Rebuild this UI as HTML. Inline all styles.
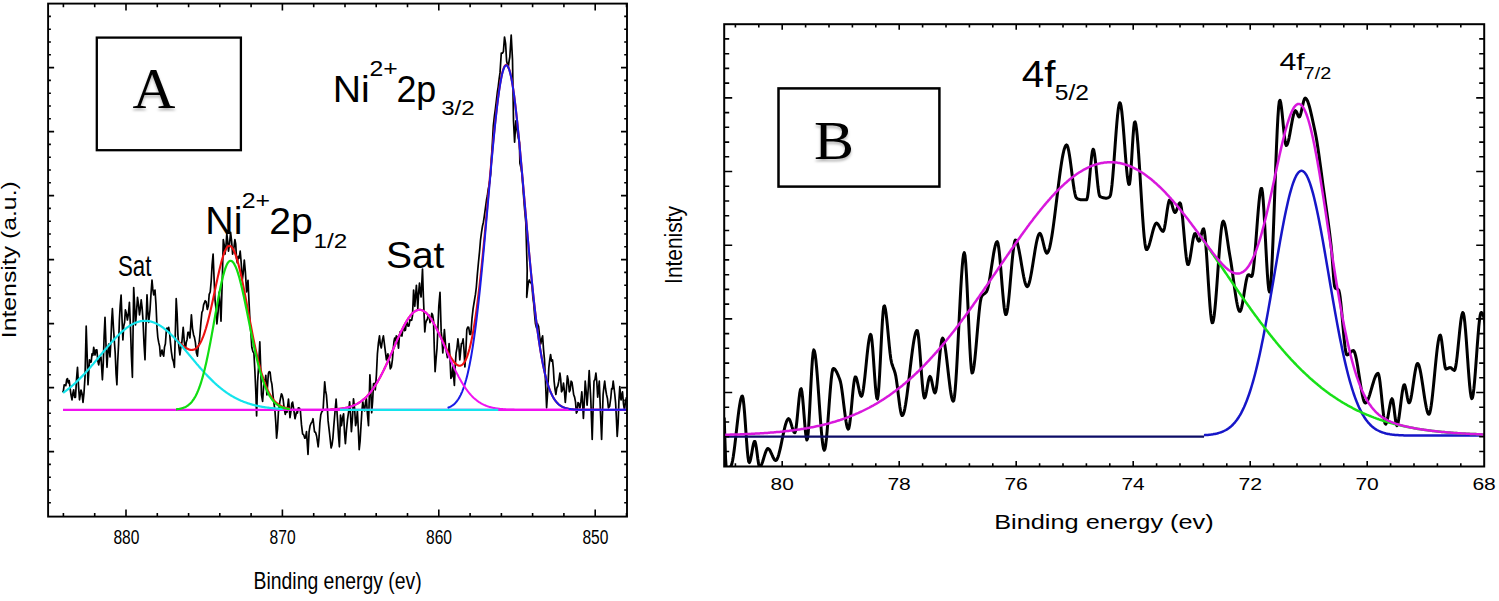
<!DOCTYPE html>
<html><head><meta charset="utf-8"><style>
html,body{margin:0;padding:0;background:#fff;}
svg{display:block;}
text{font-family:"Liberation Sans", sans-serif;fill:#000;}
</style></head><body>
<svg width="1499" height="601" viewBox="0 0 1499 601">
<defs><clipPath id="ca"><rect x="48.1" y="3.6" width="578.9" height="513.0"/></clipPath><clipPath id="cb"><rect x="724.2" y="24.2" width="760.0" height="442.3"/></clipPath><filter id="sh" x="-20%" y="-20%" width="140%" height="160%"><feDropShadow dx="0" dy="2.5" stdDeviation="1.3" flood-color="#000" flood-opacity="0.28"/></filter></defs>
<rect width="1499" height="601" fill="#fff"/>
<!-- Panel A -->
<g fill="none" stroke-linejoin="round">
<path d="M62.5,392.3L63.3,391.3L64.2,384.9L65.0,385.0L65.8,385.7L66.7,379.6L67.5,378.6L68.3,382.9L69.2,380.6L70.0,387.3L71.0,394.8L72.0,399.8L72.8,393.4L73.7,389.8L74.6,397.4L75.5,397.3L76.5,379.4L77.5,367.3L78.5,385.7L79.5,399.8L81.0,390.0L82.0,393.6L83.0,402.3L84.0,392.8L85.0,377.3L86.2,326.2L87.1,353.7L88.0,384.8L89.5,359.8L90.3,362.3L91.2,362.0L92.0,353.8L92.9,355.3L93.7,347.4L95.0,355.0L96.0,349.9L96.9,349.9L97.8,360.8L98.7,364.8L99.8,358.3L101.0,357.0L102.4,379.8L103.3,362.9L104.1,336.6L105.0,317.4L106.0,345.0L107.0,367.3L107.8,353.2L108.7,344.0L110.0,357.0L110.8,343.0L111.6,322.0L112.4,308.7L113.4,327.1L114.4,342.0L115.2,352.9L116.1,374.1L116.9,384.8L117.7,361.8L118.6,343.9L119.4,319.9L120.2,305.6L121.1,295.0L122.0,318.7L122.9,340.0L123.7,326.3L124.6,322.2L125.4,309.9L126.4,313.5L127.4,320.0L128.4,314.2L129.4,302.4L130.4,325.8L131.4,356.0L132.4,377.3L133.7,287.5L134.6,304.5L135.5,324.9L136.5,312.2L137.5,297.4L138.5,304.5L139.5,314.9L140.3,309.4L141.2,299.9L142.1,307.5L143.0,319.9L144.0,343.6L145.0,359.8L146.0,324.3L147.0,294.9L147.8,310.7L148.7,322.4L150.0,310.0L151.0,293.9L152.0,280.0L152.8,288.9L153.7,294.9L155.0,290.0L156.0,304.7L157.0,327.4L157.8,337.3L158.7,342.4L159.6,346.2L160.4,356.1L162.0,350.0L162.8,354.2L163.7,356.1L164.5,347.1L165.4,343.8L166.2,332.4L167.0,328.0L167.9,331.0L168.7,327.4L169.6,332.9L170.4,342.4L171.4,351.8L172.4,358.6L173.4,361.4L174.4,367.3L175.3,334.1L176.2,298.7L177.1,313.3L177.9,334.9L178.9,347.2L179.9,354.8L180.9,347.0L181.9,342.0L183.2,327.4L184.3,341.8L185.4,349.8L186.2,342.4L187.1,339.4L187.9,332.4L188.9,332.4L189.9,338.0L191.4,314.9L192.5,328.6L193.6,334.9L194.5,337.6L195.4,342.4L196.4,352.7L197.4,356.1L198.2,347.5L199.1,343.3L199.9,335.0L200.9,322.6L201.9,312.4L202.8,310.5L203.6,304.9L205.2,300.7L206.2,301.9L207.3,309.5L208.3,306.1L209.2,294.3L210.2,292.0L211.2,281.0L212.1,264.8L213.1,254.1L214.1,279.2L215.1,300.7L216.0,308.4L216.9,324.0L218.1,311.8L219.2,292.0L220.1,304.5L221.0,321.1L222.2,282.7L223.3,239.6L224.2,244.9L225.0,254.1L225.9,247.1L226.8,233.7L227.7,241.3L228.5,251.2L229.6,243.0L230.6,232.3L231.6,241.0L232.6,254.1L233.8,248.6L234.9,239.6L235.7,243.8L236.5,258.4L237.3,262.9L238.3,256.4L239.2,258.1L240.2,251.2L241.2,262.7L242.2,280.3L243.2,273.5L244.3,260.0L245.4,272.2L246.6,292.0L248.0,280.3L249.1,303.6L250.1,324.0L250.9,332.8L251.8,347.3L252.9,351.6L253.9,353.1L254.9,371.2L255.9,393.9L256.6,416.0L257.6,381.9L258.7,365.3L259.8,341.9L260.6,364.7L261.5,394.9L262.6,401.4L264.1,379.8L265.0,380.9L265.8,375.4L266.9,394.9L268.4,373.3L269.2,371.6L270.1,372.2L271.0,380.2L271.9,384.1L273.4,399.2L274.9,410.0L275.8,422.6L276.6,438.2L277.5,429.2L278.4,412.2L279.9,401.4L281.4,393.8L282.2,395.1L283.1,399.2L284.2,408.5L285.3,414.4L286.1,411.2L287.0,412.2L288.5,399.2L290.0,417.6L290.9,411.7L291.8,403.5L292.6,402.1L293.5,407.9L295.0,418.7L296.5,412.2L297.4,413.0L298.3,407.9L299.4,408.0L300.4,411.1L301.5,424.9L302.6,433.8L303.7,434.8L304.8,438.2L305.6,437.8L306.5,431.7L308.0,454.4L309.1,431.7L310.1,425.7L311.2,423.0L312.1,422.0L313.0,418.7L314.5,431.7L315.6,432.5L316.6,436.0L318.2,446.8L319.0,437.6L319.9,423.0L320.8,414.7L321.6,412.2L323.1,410.0L324.7,381.9L325.5,390.4L326.4,394.9L327.2,405.0L328.1,420.9L329.6,433.8L331.1,447.9L332.0,445.1L332.9,438.2L333.8,426.0L334.6,416.5L336.1,399.2L337.6,420.9L338.5,435.8L339.4,446.8L340.5,415.0L341.5,425.7L342.6,417.6L343.6,413.8L344.5,432.5L345.4,443.7L346.4,430.4L347.5,419.7L348.6,412.0L349.6,401.8L350.5,414.1L351.4,431.7L352.4,419.1L353.5,398.8L354.6,408.5L355.6,425.7L356.5,421.4L357.4,410.8L358.3,429.0L359.2,449.7L360.1,441.1L361.0,425.7L361.9,410.7L362.8,401.8L363.7,407.7L364.6,410.8L365.5,402.4L366.4,398.8L367.4,413.4L368.5,425.7L369.9,374.8L370.8,390.4L371.7,412.8L372.6,401.5L373.5,383.8L374.4,383.4L375.3,389.8L376.4,375.1L377.4,353.9L378.4,343.1L379.5,335.9L380.4,345.3L381.3,347.9L382.4,340.2L383.4,335.9L384.9,347.9L386.4,359.8L387.9,353.9L388.7,360.3L389.5,361.7L390.3,368.8L391.4,366.8L392.4,359.8L393.9,341.9L394.7,338.0L395.5,340.7L396.3,335.9L397.3,336.6L398.5,348.2L399.3,337.2L400.1,331.9L401.1,335.7L402.0,336.0L402.9,328.8L403.9,327.3L404.7,330.7L405.5,330.0L406.3,323.1L407.1,322.6L408.1,326.2L409.0,326.0L409.9,319.8L410.9,320.3L411.7,320.2L412.5,315.6L413.6,290.0L414.8,306.3L416.4,285.3L417.8,308.6L418.6,293.1L419.5,283.0L420.3,293.0L421.1,297.0L422.5,269.0L423.4,297.0L424.8,331.9L425.6,323.5L426.5,320.3L427.3,319.7L428.1,315.6L429.1,315.2L430.0,322.6L430.9,319.2L431.8,313.3L432.6,314.8L433.5,320.3L434.3,348.6L435.1,371.6L436.1,358.8L437.0,348.2L437.9,328.7L438.8,306.3L440.0,292.3L441.2,331.9L442.0,339.0L442.8,352.9L444.4,329.6L445.8,348.2L447.4,357.6L448.2,354.0L449.1,343.6L450.0,358.1L450.9,378.5L451.9,376.4L452.8,366.9L454.4,385.5L455.2,365.9L456.1,352.9L457.0,347.8L457.9,338.9L458.9,346.5L459.8,359.9L461.4,343.6L462.2,343.3L463.1,338.9L464.0,349.7L464.9,366.9L465.9,350.4L466.8,329.6L467.8,327.0L468.7,327.3L469.8,334.4L470.8,334.3L472.0,318.4L473.1,308.6L474.5,300.0L475.4,294.7L476.3,287.5L477.4,273.9L478.5,262.0L479.5,252.0L480.5,240.0L481.5,232.3L482.5,226.0L483.4,222.2L484.2,216.8L485.4,208.0L486.5,200.0L487.3,196.0L488.2,189.4L489.0,185.7L489.8,180.8L490.6,174.1L491.5,157.1L492.4,142.9L493.3,126.2L494.4,116.2L495.4,108.8L496.5,99.5L497.4,91.8L498.2,86.8L499.1,79.2L500.0,72.9L501.3,53.0L502.4,53.2L503.4,51.6L504.5,37.0L505.6,43.6L506.6,61.0L508.2,67.6L509.0,61.6L509.8,57.0L511.2,35.1L512.5,59.6L513.5,120.8L514.6,142.1L515.9,120.8L517.3,131.5L518.3,137.5L519.4,142.1L519.9,163.4L521.0,167.7L522.0,174.1L523.5,195.0L524.6,209.1L525.8,222.4L527.2,270.5L526.7,297.4L527.6,288.8L528.5,282.0L529.3,280.0L530.2,282.4L531.1,282.8L532.0,285.3L532.9,297.6L533.7,303.4L534.6,314.6L535.5,323.8L536.5,327.9L537.5,323.7L538.6,326.6L539.7,336.8L540.8,343.9L541.7,338.9L542.6,335.9L543.5,349.1L544.5,359.9L545.5,381.5L546.6,407.8L547.7,391.8L548.8,367.9L549.7,360.1L550.6,354.5L551.5,361.2L552.5,359.9L553.3,367.9L554.1,381.2L555.0,389.2L555.9,394.5L556.8,388.0L557.8,386.0L558.8,381.2L559.9,373.2L560.7,379.4L561.5,391.8L562.5,390.0L563.5,383.0L564.4,390.9L565.3,402.5L566.3,390.9L567.4,375.8L568.3,380.2L569.3,391.8L570.2,389.8L571.1,381.2L572.0,382.3L572.8,388.0L573.7,394.8L574.6,397.1L575.5,401.9L576.4,413.1L577.2,411.7L578.0,402.5L579.0,404.0L580.0,408.0L580.9,401.4L581.8,391.8L582.6,403.0L583.4,418.4L584.3,402.3L585.2,381.2L586.2,391.9L587.1,405.1L588.2,389.0L589.2,370.5L590.8,399.8L592.2,439.5L593.1,408.7L594.0,381.2L595.0,379.4L595.9,373.2L596.8,381.9L597.7,397.1L599.3,381.2L600.5,413.2L601.6,439.5L603.1,394.5L603.9,386.8L604.7,381.2L605.6,389.0L606.5,394.5L607.5,398.8L608.4,407.8L609.6,406.5L610.8,398.0L611.6,388.7L612.4,388.9L613.2,381.2L614.8,394.5L615.6,402.8L616.4,418.4L617.2,436.5L618.1,423.6L618.9,400.9L619.8,386.5L621.0,400.0L622.5,391.8L623.5,404.1L624.5,410.0L625.5,401.5L626.5,397.1" stroke="#000" stroke-width="1.7"/>
<path d="M176.0,339.1L176.5,339.6L177.0,340.1L177.5,340.6L178.0,341.1L178.5,341.6L179.0,342.1L179.5,342.5L180.0,343.0L180.5,343.5L181.0,343.9L181.5,344.4L182.0,344.8L182.5,345.3L183.0,345.7L183.5,346.1L184.0,346.5L184.5,346.9L185.0,347.2L185.5,347.6L186.0,347.9L186.5,348.2L187.0,348.5L187.5,348.8L188.0,349.0L188.5,349.3L189.0,349.5L189.5,349.6L190.0,349.8L190.5,349.9L191.0,349.9L191.5,350.0L192.0,350.0L192.5,349.9L193.0,349.9L193.5,349.7L194.0,349.6L194.5,349.3L195.0,349.1L195.5,348.8L196.0,348.4L196.5,348.0L197.0,347.5L197.5,347.0L198.0,346.4L198.5,345.7L199.0,345.0L199.5,344.3L200.0,343.4L200.5,342.5L201.0,341.5L201.5,340.5L202.0,339.4L202.5,338.2L203.0,337.0L203.5,335.7L204.0,334.3L204.5,332.9L205.0,331.4L205.5,329.8L206.0,328.2L206.5,326.4L207.0,324.7L207.5,322.9L208.0,321.0L208.5,319.0L209.0,317.0L209.5,315.0L210.0,312.9L210.5,310.7L211.0,308.5L211.5,306.3L212.0,304.1L212.5,301.8L213.0,299.5L213.5,297.1L214.0,294.8L214.5,292.4L215.0,290.1L215.5,287.7L216.0,285.3L216.5,283.0L217.0,280.7L217.5,278.4L218.0,276.1L218.5,273.9L219.0,271.7L219.5,269.6L220.0,267.5L220.5,265.5L221.0,263.5L221.5,261.6L222.0,259.8L222.5,258.1L223.0,256.5L223.5,255.0L224.0,253.5L224.5,252.2L225.0,251.0L225.5,249.9L226.0,249.0L226.5,248.1L227.0,247.4L227.5,246.8L228.0,246.4L228.5,246.0L229.0,245.9L229.5,245.8L230.0,245.9L230.5,246.2L231.0,246.5L231.5,247.0L232.0,247.6L232.5,248.3L233.0,249.1L233.5,250.0L234.0,251.0L234.5,252.1L235.0,253.3L235.5,254.7L236.0,256.1L236.5,257.6L237.0,259.2L237.5,260.9L238.0,262.7L238.5,264.5L239.0,266.5L239.5,268.5L240.0,270.6L240.5,272.7L241.0,275.0L241.5,277.3L242.0,279.6L242.5,282.0L243.0,284.4L243.5,286.9L244.0,289.4L244.5,292.0L245.0,294.6L245.5,297.2L246.0,299.8L246.5,302.4L247.0,305.1L247.5,307.8L248.0,310.4L248.5,313.1L249.0,315.8L249.5,318.4L250.0,321.1L250.5,323.7L251.0,326.3L251.5,328.9L252.0,331.5L252.5,334.1L253.0,336.6L253.5,339.1L254.0,341.5L254.5,343.9L255.0,346.3L255.5,348.6L256.0,350.9L256.5,353.2L257.0,355.4L257.5,357.5L258.0,359.6L258.5,361.7L259.0,363.7L259.5,365.6L260.0,367.5L260.5,369.3L261.0,371.1L261.5,372.9L262.0,374.5L262.5,376.2L263.0,377.7L263.5,379.3L264.0,380.7L264.5,382.2L265.0,383.5L265.5,384.8L266.0,386.1L266.5,387.3L267.0,388.5L267.5,389.6L268.0,390.7L268.5,391.7L269.0,392.7L269.5,393.6L270.0,394.5L270.5,395.4L271.0,396.2L271.5,397.0L272.0,397.7L272.5,398.4L273.0,399.1L273.5,399.7L274.0,400.3L274.5,400.9L275.0,401.4L275.5,401.9L276.0,402.4L276.5,402.9L277.0,403.3L277.5,403.7L278.0,404.1L278.5,404.5L279.0,404.8L279.5,405.1L280.0,405.4L280.5,405.7L281.0,406.0L281.5,406.2L282.0,406.4L282.5,406.7L283.0,406.9L283.5,407.1L284.0,407.2L284.5,407.4L285.0,407.6L285.5,407.7L286.0,407.9L286.5,408.0L287.0,408.1L287.5,408.2L288.0,408.3L288.5,408.4L289.0,408.5L289.5,408.6L290.0,408.7" stroke="#ee1111" stroke-width="2.1"/>
<path d="M330.0,409.5L330.5,409.5L331.0,409.5L331.5,409.4L332.0,409.4L332.5,409.4L333.0,409.4L333.5,409.3L334.0,409.3L334.5,409.3L335.0,409.2L335.5,409.2L336.0,409.2L336.5,409.1L337.0,409.1L337.5,409.0L338.0,409.0L338.5,408.9L339.0,408.9L339.5,408.8L340.0,408.8L340.5,408.7L341.0,408.6L341.5,408.6L342.0,408.5L342.5,408.4L343.0,408.3L343.5,408.3L344.0,408.2L344.5,408.1L345.0,408.0L345.5,407.9L346.0,407.8L346.5,407.7L347.0,407.6L347.5,407.4L348.0,407.3L348.5,407.2L349.0,407.0L349.5,406.9L350.0,406.8L350.5,406.6L351.0,406.4L351.5,406.3L352.0,406.1L352.5,405.9L353.0,405.7L353.5,405.5L354.0,405.3L354.5,405.1L355.0,404.9L355.5,404.6L356.0,404.4L356.5,404.1L357.0,403.9L357.5,403.6L358.0,403.3L358.5,403.0L359.0,402.7L359.5,402.4L360.0,402.1L360.5,401.7L361.0,401.4L361.5,401.0L362.0,400.6L362.5,400.2L363.0,399.8L363.5,399.4L364.0,399.0L364.5,398.6L365.0,398.1L365.5,397.7L366.0,397.2L366.5,396.7L367.0,396.2L367.5,395.6L368.0,395.1L368.5,394.5L369.0,394.0L369.5,393.4L370.0,392.8L370.5,392.2L371.0,391.5L371.5,390.9L372.0,390.2L372.5,389.5L373.0,388.8L373.5,388.1L374.0,387.4L374.5,386.7L375.0,385.9L375.5,385.1L376.0,384.3L376.5,383.5L377.0,382.7L377.5,381.9L378.0,381.0L378.5,380.1L379.0,379.2L379.5,378.3L380.0,377.4L380.5,376.5L381.0,375.5L381.5,374.6L382.0,373.6L382.5,372.6L383.0,371.6L383.5,370.6L384.0,369.6L384.5,368.5L385.0,367.5L385.5,366.4L386.0,365.4L386.5,364.3L387.0,363.2L387.5,362.1L388.0,361.0L388.5,359.9L389.0,358.8L389.5,357.6L390.0,356.5L390.5,355.4L391.0,354.2L391.5,353.1L392.0,351.9L392.5,350.8L393.0,349.6L393.5,348.5L394.0,347.3L394.5,346.2L395.0,345.0L395.5,343.9L396.0,342.7L396.5,341.6L397.0,340.4L397.5,339.3L398.0,338.2L398.5,337.1L399.0,336.0L399.5,334.9L400.0,333.8L400.5,332.8L401.0,331.7L401.5,330.7L402.0,329.7L402.5,328.7L403.0,327.7L403.5,326.7L404.0,325.7L404.5,324.8L405.0,323.9L405.5,323.0L406.0,322.1L406.5,321.3L407.0,320.5L407.5,319.7L408.0,318.9L408.5,318.2L409.0,317.5L409.5,316.8L410.0,316.1L410.5,315.5L411.0,314.9L411.5,314.3L412.0,313.8L412.5,313.3L413.0,312.8L413.5,312.4L414.0,312.0L414.5,311.6L415.0,311.3L415.5,310.9L416.0,310.7L416.5,310.4L417.0,310.2L417.5,310.1L418.0,310.0L418.5,309.9L419.0,309.8L419.5,309.8L420.0,309.8L420.5,309.9L421.0,310.0L421.5,310.1L422.0,310.2L422.5,310.4L423.0,310.7L423.5,310.9L424.0,311.2L424.5,311.6L425.0,311.9L425.5,312.4L426.0,312.8L426.5,313.3L427.0,313.8L427.5,314.3L428.0,314.9L428.5,315.5L429.0,316.1L429.5,316.7L430.0,317.4L430.5,318.1L431.0,318.9L431.5,319.6L432.0,320.4L432.5,321.2L433.0,322.0L433.5,322.9L434.0,323.8L434.5,324.7L435.0,325.6L435.5,326.5L436.0,327.5L436.5,328.4L437.0,329.4L437.5,330.4L438.0,331.4L438.5,332.4L439.0,333.5L439.5,334.5L440.0,335.5L440.5,336.6L441.0,337.7L441.5,338.7L442.0,339.8L442.5,340.8L443.0,341.9L443.5,343.0L444.0,344.0L444.5,345.1L445.0,346.1L445.5,347.2L446.0,348.2L446.5,349.2L447.0,350.2L447.5,351.2L448.0,352.2L448.5,353.1L449.0,354.1L449.5,355.0L450.0,355.9L450.5,356.7L451.0,357.6L451.5,358.4L452.0,359.2L452.5,359.9L453.0,360.6L453.5,361.3L454.0,362.0L454.5,362.5L455.0,363.1L455.5,363.6L456.0,364.1L456.5,364.5L457.0,364.8L457.5,365.1L458.0,365.4L458.5,365.5L459.0,365.7L459.5,365.7L460.0,365.7L460.5,365.6L461.0,365.4L461.5,365.2L462.0,364.9L462.5,364.5L463.0,364.0L463.5,363.4L464.0,362.8L464.5,362.0L465.0,361.2L465.5,360.2L466.0,359.2L466.5,358.0L467.0,356.8L467.5,355.4L468.0,353.9L468.5,352.3L469.0,350.6L469.5,348.8L470.0,346.8L470.5,344.8L471.0,342.6L471.5,340.3L472.0,337.8L472.5,335.3L473.0,332.6L473.5,329.7L474.0,326.8L474.5,323.7L475.0,320.5L475.5,317.2L476.0,313.7L476.5,310.1L477.0,306.4L477.5,302.5L478.0,298.5L478.5,294.4L479.0,290.2L479.5,285.9L480.0,281.4L480.5,276.9L481.0,272.2L481.5,267.4L482.0,262.6L482.5,257.6L483.0,252.6L483.5,247.4L484.0,242.2L484.5,237.0L485.0,231.6L485.5,226.2L486.0,220.8L486.5,215.3L487.0,209.8L487.5,204.2L488.0,198.6L488.5,193.1L489.0,187.5L489.5,181.9L490.0,176.4L490.5,170.8L491.0,165.4L491.5,159.9L492.0,154.6L492.5,149.2L493.0,144.0L493.5,138.9L494.0,133.8L494.5,128.9L495.0,124.1L495.5,119.4L496.0,114.8L496.5,110.4L497.0,106.2L497.5,102.1L498.0,98.2L498.5,94.4L499.0,90.9L499.5,87.5L500.0,84.4L500.5,81.5L501.0,78.8L501.5,76.3L502.0,74.1L502.5,72.0L503.0,70.3L503.5,68.7L504.0,67.5L504.5,66.4L505.0,65.7L505.5,65.2L506.0,64.9L506.5,64.9L507.0,65.2L507.5,65.7L508.0,66.5L508.5,67.5L509.0,68.8L509.5,70.3L510.0,72.1L510.5,74.1L511.0,76.4L511.5,78.9L512.0,81.6L512.5,84.5L513.0,87.7L513.5,91.1L514.0,94.6L514.5,98.4L515.0,102.4L515.5,106.5L516.0,110.8L516.5,115.3L517.0,119.9L517.5,124.6L518.0,129.5L518.5,134.5L519.0,139.7L519.5,144.9L520.0,150.2L520.5,155.6L521.0,161.1L521.5,166.7L522.0,172.3L522.5,177.9L523.0,183.6L523.5,189.3L524.0,195.1L524.5,200.8L525.0,206.6L525.5,212.3L526.0,218.0L526.5,223.7L527.0,229.4L527.5,235.0L528.0,240.5L528.5,246.1L529.0,251.5L529.5,256.9L530.0,262.2L530.5,267.5L531.0,272.6L531.5,277.7L532.0,282.7L532.5,287.6L533.0,292.3L533.5,297.0L534.0,301.6L534.5,306.1L535.0,310.4L535.5,314.7L536.0,318.8L536.5,322.8L537.0,326.7L537.5,330.5L538.0,334.2L538.5,337.8L539.0,341.2L539.5,344.5L540.0,347.8L540.5,350.9L541.0,353.8L541.5,356.7L542.0,359.5L542.5,362.1L543.0,364.7L543.5,367.1L544.0,369.5L544.5,371.7L545.0,373.9L545.5,375.9L546.0,377.9L546.5,379.8L547.0,381.5L547.5,383.2L548.0,384.8L548.5,386.4L549.0,387.8L549.5,389.2L550.0,390.5L550.5,391.8L551.0,392.9L551.5,394.0L552.0,395.1L552.5,396.1L553.0,397.0L553.5,397.9L554.0,398.7L554.5,399.5L555.0,400.2L555.5,400.9L556.0,401.5L556.5,402.1L557.0,402.7L557.5,403.2L558.0,403.7L558.5,404.2L559.0,404.6L559.5,405.0L560.0,405.4L560.5,405.7L561.0,406.0L561.5,406.3L562.0,406.6L562.5,406.9L563.0,407.1L563.5,407.3L564.0,407.5L564.5,407.7L565.0,407.9L565.5,408.1L566.0,408.2L566.5,408.3L567.0,408.5L567.5,408.6L568.0,408.7L568.5,408.8L569.0,408.9L569.5,409.0L570.0,409.0L570.5,409.1L571.0,409.2L571.5,409.2L572.0,409.3L572.5,409.3L573.0,409.4L573.5,409.4L574.0,409.5L574.5,409.5L575.0,409.5L575.5,409.5L576.0,409.6L576.5,409.6L577.0,409.6L577.5,409.6L578.0,409.7L578.5,409.7L579.0,409.7L579.5,409.7L580.0,409.7L580.5,409.7L581.0,409.7L581.5,409.7L582.0,409.7L582.5,409.7L583.0,409.8L583.5,409.8L584.0,409.8L584.5,409.8L585.0,409.8L585.5,409.8L586.0,409.8L586.5,409.8L587.0,409.8L587.5,409.8L588.0,409.8L588.5,409.8L589.0,409.8L589.5,409.8L590.0,409.8L590.5,409.8L591.0,409.8L591.5,409.8L592.0,409.8L592.5,409.8L593.0,409.8L593.5,409.8L594.0,409.8L594.5,409.8L595.0,409.8L595.5,409.8L596.0,409.8L596.5,409.8L597.0,409.8L597.5,409.8L598.0,409.8L598.5,409.8L599.0,409.8L599.5,409.8L600.0,409.8" stroke="#ee1111" stroke-width="2.1"/>
<path d="M63,409.8H627" stroke="#f012f0" stroke-width="2.2"/>
<path d="M447.6,407.9L448.1,407.7L448.6,407.5L449.1,407.3L449.6,407.1L450.1,406.9L450.6,406.6L451.1,406.3L451.6,406.0L452.1,405.7L452.6,405.4L453.1,405.0L453.6,404.6L454.1,404.2L454.6,403.7L455.1,403.2L455.6,402.7L456.1,402.1L456.6,401.5L457.1,400.9L457.6,400.2L458.1,399.5L458.6,398.7L459.1,397.9L459.6,397.0L460.1,396.1L460.6,395.1L461.1,394.0L461.6,392.9L462.1,391.8L462.6,390.5L463.1,389.2L463.6,387.8L464.1,386.4L464.6,384.8L465.1,383.2L465.6,381.5L466.1,379.8L466.6,377.9L467.1,375.9L467.6,373.9L468.1,371.7L468.6,369.5L469.1,367.1L469.6,364.7L470.1,362.1L470.6,359.5L471.1,356.7L471.6,353.8L472.1,350.9L472.6,347.8L473.1,344.5L473.6,341.2L474.1,337.8L474.6,334.2L475.1,330.5L475.6,326.8L476.1,322.8L476.6,318.8L477.1,314.7L477.6,310.4L478.1,306.1L478.6,301.6L479.1,297.0L479.6,292.4L480.1,287.6L480.6,282.7L481.1,277.7L481.6,272.6L482.1,267.5L482.6,262.2L483.1,256.9L483.6,251.5L484.1,246.1L484.6,240.6L485.1,235.0L485.6,229.4L486.1,223.7L486.6,218.0L487.1,212.3L487.6,206.6L488.1,200.9L488.6,195.1L489.1,189.4L489.6,183.7L490.1,178.0L490.6,172.3L491.1,166.7L491.6,161.2L492.1,155.7L492.6,150.3L493.1,145.0L493.6,139.7L494.1,134.6L494.6,129.6L495.1,124.7L495.6,120.0L496.1,115.4L496.6,110.9L497.1,106.6L497.6,102.5L498.1,98.5L498.6,94.8L499.1,91.2L499.6,87.9L500.1,84.7L500.6,81.8L501.1,79.1L501.6,76.6L502.1,74.4L502.6,72.3L503.1,70.6L503.6,69.1L504.1,67.8L504.6,66.8L505.1,66.0L505.6,65.6L506.1,65.3L506.6,65.3L507.1,65.6L507.6,66.2L508.1,67.0L508.6,68.0L509.1,69.4L509.6,70.9L510.1,72.7L510.6,74.8L511.1,77.1L511.6,79.6L512.1,82.4L512.6,85.3L513.1,88.5L513.6,91.9L514.1,95.5L514.6,99.3L515.1,103.3L515.6,107.5L516.1,111.8L516.6,116.3L517.1,120.9L517.6,125.7L518.1,130.6L518.6,135.6L519.1,140.8L519.6,146.0L520.1,151.4L520.6,156.8L521.1,162.3L521.6,167.8L522.1,173.5L522.6,179.1L523.1,184.8L523.6,190.5L524.1,196.3L524.6,202.0L525.1,207.7L525.6,213.5L526.1,219.2L526.6,224.9L527.1,230.5L527.6,236.1L528.1,241.7L528.6,247.2L529.1,252.6L529.6,258.0L530.1,263.3L530.6,268.5L531.1,273.7L531.6,278.7L532.1,283.7L532.6,288.5L533.1,293.3L533.6,298.0L534.1,302.5L534.6,307.0L535.1,311.3L535.6,315.5L536.1,319.6L536.6,323.6L537.1,327.5L537.6,331.3L538.1,334.9L538.6,338.5L539.1,341.9L539.6,345.2L540.1,348.4L540.6,351.5L541.1,354.4L541.6,357.3L542.1,360.0L542.6,362.7L543.1,365.2L543.6,367.6L544.1,369.9L544.6,372.2L545.1,374.3L545.6,376.3L546.1,378.3L546.6,380.1L547.1,381.9L547.6,383.6L548.1,385.2L548.6,386.7L549.1,388.1L549.6,389.5L550.1,390.8L550.6,392.0L551.1,393.1L551.6,394.2L552.1,395.3L552.6,396.3L553.1,397.2L553.6,398.0L554.1,398.9L554.6,399.6L555.1,400.3L555.6,401.0L556.1,401.6L556.6,402.2L557.1,402.8L557.6,403.3L558.1,403.8L558.6,404.3L559.1,404.7L559.6,405.1L560.1,405.4L560.6,405.8L561.1,406.1L561.6,406.4L562.1,406.7L562.6,406.9L563.1,407.2L563.6,407.4L564.1,407.6L564.6,407.8L565.1,407.9L565.6,408.1L566.1,408.2L566.6,408.4L567.1,408.5L567.6,408.6L568.1,408.7L568.6,408.8L569.1,408.9L569.6,409.0L570.1,409.1L570.6,409.1L571.1,409.2L571.6,409.2L572.1,409.3L572.6,409.3L573.1,409.4L573.6,409.4L574.1,409.5L574.6,409.5L575.1,409.5L575.6,409.6L576.1,409.6L576.6,409.6L577.1,409.6L577.6,409.6L578.1,409.7L578.6,409.7L579.1,409.7L579.6,409.7L580.1,409.7L580.6,409.7L581.1,409.7L581.6,409.7L582.1,409.7L582.6,409.7L583.1,409.8L583.6,409.8L584.1,409.8L584.6,409.8L585.1,409.8L585.6,409.8L586.1,409.8L586.6,409.8L587.1,409.8L587.6,409.8L588.1,409.8L588.6,409.8L589.1,409.8L589.6,409.8L590.1,409.8L590.6,409.8L591.1,409.8L591.6,409.8L592.1,409.8L592.6,409.8L593.1,409.8L593.6,409.8L594.1,409.8L594.6,409.8L595.1,409.8L595.6,409.8L596.1,409.8L596.6,409.8L597.1,409.8L597.6,409.8L598.1,409.8L598.6,409.8L599.1,409.8L599.6,409.8L600.1,409.8L600.6,409.8L601.1,409.8L601.6,409.8L602.1,409.8L602.6,409.8L603.1,409.8L603.6,409.8L604.1,409.8L604.6,409.8L605.1,409.8L605.6,409.8L606.1,409.8L606.6,409.8L607.1,409.8L607.6,409.8L608.1,409.8L608.6,409.8L609.1,409.8L609.6,409.8L610.1,409.8L610.6,409.8L611.1,409.8L611.6,409.8L612.1,409.8L612.6,409.8L613.1,409.8L613.6,409.8L614.1,409.8L614.6,409.8L615.1,409.8L615.6,409.8L616.1,409.8L616.6,409.8L617.1,409.8L617.6,409.8L618.1,409.8L618.6,409.8L619.1,409.8L619.6,409.8L620.1,409.8L620.6,409.8L621.1,409.8L621.6,409.8L622.1,409.8L622.6,409.8L623.1,409.8L623.6,409.8L624.1,409.8L624.6,409.8L625.1,409.8L625.6,409.8L626.1,409.8L626.6,409.8" stroke="#1a1ae6" stroke-width="2"/>
<path d="M283.0,409.8L283.5,409.8L284.0,409.8L284.5,409.8L285.0,409.8L285.5,409.8L286.0,409.8L286.5,409.8L287.0,409.8L287.5,409.8L288.0,409.8L288.5,409.8L289.0,409.8L289.5,409.8L290.0,409.8L290.5,409.8L291.0,409.8L291.5,409.8L292.0,409.8L292.5,409.8L293.0,409.8L293.5,409.8L294.0,409.8L294.5,409.8L295.0,409.8L295.5,409.8L296.0,409.8L296.5,409.8L297.0,409.8L297.5,409.8L298.0,409.8L298.5,409.8L299.0,409.8L299.5,409.8L300.0,409.8L300.5,409.8L301.0,409.8L301.5,409.8L302.0,409.8L302.5,409.8L303.0,409.8L303.5,409.8L304.0,409.8L304.5,409.8L305.0,409.8L305.5,409.8L306.0,409.8L306.5,409.8L307.0,409.8L307.5,409.8L308.0,409.8L308.5,409.8L309.0,409.8L309.5,409.8L310.0,409.8L310.5,409.8L311.0,409.8L311.5,409.8L312.0,409.8L312.5,409.8L313.0,409.8L313.5,409.8L314.0,409.8L314.5,409.8L315.0,409.8L315.5,409.8L316.0,409.8L316.5,409.8L317.0,409.7L317.5,409.7L318.0,409.7L318.5,409.7L319.0,409.7L319.5,409.7L320.0,409.7L320.5,409.7L321.0,409.7L321.5,409.7L322.0,409.7L322.5,409.7L323.0,409.7L323.5,409.7L324.0,409.7L324.5,409.7L325.0,409.6L325.5,409.6L326.0,409.6L326.5,409.6L327.0,409.6L327.5,409.6L328.0,409.6L328.5,409.5L329.0,409.5L329.5,409.5L330.0,409.5L330.5,409.5L331.0,409.5L331.5,409.4L332.0,409.4L332.5,409.4L333.0,409.4L333.5,409.3L334.0,409.3L334.5,409.3L335.0,409.2L335.5,409.2L336.0,409.2L336.5,409.1L337.0,409.1L337.5,409.0L338.0,409.0L338.5,408.9L339.0,408.9L339.5,408.8L340.0,408.8L340.5,408.7L341.0,408.6L341.5,408.6L342.0,408.5L342.5,408.4L343.0,408.3L343.5,408.3L344.0,408.2L344.5,408.1L345.0,408.0L345.5,407.9L346.0,407.8L346.5,407.7L347.0,407.6L347.5,407.4L348.0,407.3L348.5,407.2L349.0,407.0L349.5,406.9L350.0,406.8L350.5,406.6L351.0,406.4L351.5,406.3L352.0,406.1L352.5,405.9L353.0,405.7L353.5,405.5L354.0,405.3L354.5,405.1L355.0,404.9L355.5,404.6L356.0,404.4L356.5,404.1L357.0,403.9L357.5,403.6L358.0,403.3L358.5,403.0L359.0,402.7L359.5,402.4L360.0,402.1L360.5,401.7L361.0,401.4L361.5,401.0L362.0,400.6L362.5,400.2L363.0,399.8L363.5,399.4L364.0,399.0L364.5,398.6L365.0,398.1L365.5,397.7L366.0,397.2L366.5,396.7L367.0,396.2L367.5,395.6L368.0,395.1L368.5,394.5L369.0,394.0L369.5,393.4L370.0,392.8L370.5,392.2L371.0,391.5L371.5,390.9L372.0,390.2L372.5,389.5L373.0,388.8L373.5,388.1L374.0,387.4L374.5,386.7L375.0,385.9L375.5,385.1L376.0,384.3L376.5,383.5L377.0,382.7L377.5,381.9L378.0,381.0L378.5,380.1L379.0,379.2L379.5,378.3L380.0,377.4L380.5,376.5L381.0,375.5L381.5,374.6L382.0,373.6L382.5,372.6L383.0,371.6L383.5,370.6L384.0,369.6L384.5,368.5L385.0,367.5L385.5,366.4L386.0,365.4L386.5,364.3L387.0,363.2L387.5,362.1L388.0,361.0L388.5,359.9L389.0,358.8L389.5,357.6L390.0,356.5L390.5,355.4L391.0,354.2L391.5,353.1L392.0,351.9L392.5,350.8L393.0,349.6L393.5,348.5L394.0,347.3L394.5,346.2L395.0,345.0L395.5,343.9L396.0,342.7L396.5,341.6L397.0,340.4L397.5,339.3L398.0,338.2L398.5,337.1L399.0,336.0L399.5,334.9L400.0,333.8L400.5,332.8L401.0,331.7L401.5,330.7L402.0,329.7L402.5,328.7L403.0,327.7L403.5,326.7L404.0,325.7L404.5,324.8L405.0,323.9L405.5,323.0L406.0,322.1L406.5,321.3L407.0,320.5L407.5,319.7L408.0,318.9L408.5,318.2L409.0,317.5L409.5,316.8L410.0,316.1L410.5,315.5L411.0,314.9L411.5,314.3L412.0,313.8L412.5,313.3L413.0,312.8L413.5,312.4L414.0,312.0L414.5,311.6L415.0,311.3L415.5,310.9L416.0,310.7L416.5,310.4L417.0,310.3L417.5,310.1L418.0,310.0L418.5,309.9L419.0,309.8L419.5,309.8L420.0,309.8L420.5,309.9L421.0,310.0L421.5,310.1L422.0,310.3L422.5,310.4L423.0,310.7L423.5,310.9L424.0,311.3L424.5,311.6L425.0,312.0L425.5,312.4L426.0,312.8L426.5,313.3L427.0,313.8L427.5,314.3L428.0,314.9L428.5,315.5L429.0,316.1L429.5,316.8L430.0,317.5L430.5,318.2L431.0,318.9L431.5,319.7L432.0,320.5L432.5,321.3L433.0,322.1L433.5,323.0L434.0,323.9L434.5,324.8L435.0,325.7L435.5,326.7L436.0,327.7L436.5,328.7L437.0,329.7L437.5,330.7L438.0,331.7L438.5,332.8L439.0,333.8L439.5,334.9L440.0,336.0L440.5,337.1L441.0,338.2L441.5,339.3L442.0,340.4L442.5,341.6L443.0,342.7L443.5,343.9L444.0,345.0L444.5,346.2L445.0,347.3L445.5,348.5L446.0,349.6L446.5,350.8L447.0,351.9L447.5,353.1L448.0,354.2L448.5,355.4L449.0,356.5L449.5,357.6L450.0,358.8L450.5,359.9L451.0,361.0L451.5,362.1L452.0,363.2L452.5,364.3L453.0,365.4L453.5,366.4L454.0,367.5L454.5,368.5L455.0,369.6L455.5,370.6L456.0,371.6L456.5,372.6L457.0,373.6L457.5,374.6L458.0,375.5L458.5,376.5L459.0,377.4L459.5,378.3L460.0,379.2L460.5,380.1L461.0,381.0L461.5,381.9L462.0,382.7L462.5,383.5L463.0,384.3L463.5,385.1L464.0,385.9L464.5,386.7L465.0,387.4L465.5,388.1L466.0,388.8L466.5,389.5L467.0,390.2L467.5,390.9L468.0,391.5L468.5,392.2L469.0,392.8L469.5,393.4L470.0,394.0L470.5,394.5L471.0,395.1L471.5,395.6L472.0,396.2L472.5,396.7L473.0,397.2L473.5,397.7L474.0,398.1L474.5,398.6L475.0,399.0L475.5,399.4L476.0,399.8L476.5,400.2L477.0,400.6L477.5,401.0L478.0,401.4L478.5,401.7L479.0,402.1L479.5,402.4L480.0,402.7L480.5,403.0L481.0,403.3L481.5,403.6L482.0,403.9L482.5,404.1L483.0,404.4L483.5,404.6L484.0,404.9L484.5,405.1L485.0,405.3L485.5,405.5L486.0,405.7L486.5,405.9L487.0,406.1L487.5,406.3L488.0,406.4L488.5,406.6L489.0,406.8L489.5,406.9L490.0,407.0L490.5,407.2L491.0,407.3L491.5,407.4L492.0,407.6L492.5,407.7L493.0,407.8L493.5,407.9L494.0,408.0L494.5,408.1L495.0,408.2L495.5,408.3L496.0,408.3L496.5,408.4L497.0,408.5L497.5,408.6L498.0,408.6L498.5,408.7L499.0,408.8L499.5,408.8L500.0,408.9L500.5,408.9L501.0,409.0L501.5,409.0L502.0,409.1L502.5,409.1L503.0,409.2L503.5,409.2L504.0,409.2L504.5,409.3L505.0,409.3L505.5,409.3L506.0,409.4L506.5,409.4L507.0,409.4L507.5,409.4L508.0,409.5L508.5,409.5L509.0,409.5L509.5,409.5L510.0,409.5L510.5,409.5L511.0,409.6L511.5,409.6L512.0,409.6L512.5,409.6L513.0,409.6L513.5,409.6L514.0,409.6L514.5,409.7L515.0,409.7L515.5,409.7L516.0,409.7L516.5,409.7L517.0,409.7L517.5,409.7L518.0,409.7L518.5,409.7L519.0,409.7L519.5,409.7L520.0,409.7L520.5,409.7L521.0,409.7L521.5,409.7L522.0,409.7L522.5,409.8L523.0,409.8L523.5,409.8L524.0,409.8L524.5,409.8L525.0,409.8L525.5,409.8L526.0,409.8L526.5,409.8L527.0,409.8L527.5,409.8L528.0,409.8L528.5,409.8L529.0,409.8L529.5,409.8L530.0,409.8L530.5,409.8L531.0,409.8L531.5,409.8L532.0,409.8L532.5,409.8L533.0,409.8L533.5,409.8L534.0,409.8L534.5,409.8L535.0,409.8L535.5,409.8L536.0,409.8L536.5,409.8L537.0,409.8L537.5,409.8L538.0,409.8L538.5,409.8L539.0,409.8L539.5,409.8L540.0,409.8L540.5,409.8L541.0,409.8L541.5,409.8L542.0,409.8L542.5,409.8L543.0,409.8L543.5,409.8L544.0,409.8L544.5,409.8L545.0,409.8L545.5,409.8L546.0,409.8L546.5,409.8L547.0,409.8L547.5,409.8L548.0,409.8L548.5,409.8L549.0,409.8L549.5,409.8L550.0,409.8L550.5,409.8L551.0,409.8L551.5,409.8L552.0,409.8L552.5,409.8L553.0,409.8L553.5,409.8L554.0,409.8L554.5,409.8L555.0,409.8L555.5,409.8L556.0,409.8L556.5,409.8L557.0,409.8L557.5,409.8L558.0,409.8L558.5,409.8L559.0,409.8L559.5,409.8L560.0,409.8L560.5,409.8L561.0,409.8L561.5,409.8L562.0,409.8L562.5,409.8L563.0,409.8L563.5,409.8L564.0,409.8L564.5,409.8L565.0,409.8L565.5,409.8L566.0,409.8L566.5,409.8L567.0,409.8L567.5,409.8L568.0,409.8L568.5,409.8" stroke="#f012f0" stroke-width="2"/>
<path d="M340,409.8H498.3" stroke="#14e4ec" stroke-width="2.2"/>
<path d="M63.0,392.9L63.5,392.5L64.0,392.2L64.5,391.8L65.0,391.5L65.5,391.1L66.0,390.7L66.5,390.4L67.0,390.0L67.5,389.6L68.0,389.2L68.5,388.8L69.0,388.4L69.5,388.0L70.0,387.6L70.5,387.2L71.0,386.8L71.5,386.4L72.0,385.9L72.5,385.5L73.0,385.1L73.5,384.6L74.0,384.2L74.5,383.7L75.0,383.3L75.5,382.8L76.0,382.3L76.5,381.9L77.0,381.4L77.5,380.9L78.0,380.4L78.5,379.9L79.0,379.4L79.5,378.9L80.0,378.4L80.5,377.9L81.0,377.4L81.5,376.9L82.0,376.4L82.5,375.9L83.0,375.4L83.5,374.8L84.0,374.3L84.5,373.8L85.0,373.2L85.5,372.7L86.0,372.1L86.5,371.6L87.0,371.0L87.5,370.5L88.0,369.9L88.5,369.3L89.0,368.8L89.5,368.2L90.0,367.6L90.5,367.1L91.0,366.5L91.5,365.9L92.0,365.3L92.5,364.7L93.0,364.2L93.5,363.6L94.0,363.0L94.5,362.4L95.0,361.8L95.5,361.2L96.0,360.6L96.5,360.0L97.0,359.4L97.5,358.8L98.0,358.2L98.5,357.6L99.0,357.0L99.5,356.4L100.0,355.8L100.5,355.2L101.0,354.6L101.5,354.0L102.0,353.4L102.5,352.8L103.0,352.2L103.5,351.6L104.0,351.0L104.5,350.4L105.0,349.8L105.5,349.3L106.0,348.7L106.5,348.1L107.0,347.5L107.5,346.9L108.0,346.3L108.5,345.7L109.0,345.2L109.5,344.6L110.0,344.0L110.5,343.5L111.0,342.9L111.5,342.3L112.0,341.8L112.5,341.2L113.0,340.7L113.5,340.1L114.0,339.6L114.5,339.1L115.0,338.5L115.5,338.0L116.0,337.5L116.5,337.0L117.0,336.5L117.5,336.0L118.0,335.5L118.5,335.0L119.0,334.5L119.5,334.0L120.0,333.5L120.5,333.1L121.0,332.6L121.5,332.1L122.0,331.7L122.5,331.3L123.0,330.8L123.5,330.4L124.0,330.0L124.5,329.6L125.0,329.2L125.5,328.8L126.0,328.4L126.5,328.0L127.0,327.6L127.5,327.3L128.0,326.9L128.5,326.6L129.0,326.3L129.5,325.9L130.0,325.6L130.5,325.3L131.0,325.0L131.5,324.7L132.0,324.4L132.5,324.2L133.0,323.9L133.5,323.7L134.0,323.4L134.5,323.2L135.0,323.0L135.5,322.8L136.0,322.6L136.5,322.4L137.0,322.2L137.5,322.0L138.0,321.9L138.5,321.7L139.0,321.6L139.5,321.5L140.0,321.3L140.5,321.2L141.0,321.2L141.5,321.1L142.0,321.0L142.5,320.9L143.0,320.9L143.5,320.8L144.0,320.8L144.5,320.8L145.0,320.8L145.5,320.8L146.0,320.8L146.5,320.8L147.0,320.9L147.5,320.9L148.0,321.0L148.5,321.1L149.0,321.2L149.5,321.2L150.0,321.3L150.5,321.5L151.0,321.6L151.5,321.7L152.0,321.9L152.5,322.0L153.0,322.2L153.5,322.4L154.0,322.6L154.5,322.8L155.0,323.0L155.5,323.2L156.0,323.4L156.5,323.7L157.0,323.9L157.5,324.2L158.0,324.4L158.5,324.7L159.0,325.0L159.5,325.3L160.0,325.6L160.5,325.9L161.0,326.3L161.5,326.6L162.0,326.9L162.5,327.3L163.0,327.6L163.5,328.0L164.0,328.4L164.5,328.8L165.0,329.2L165.5,329.6L166.0,330.0L166.5,330.4L167.0,330.8L167.5,331.3L168.0,331.7L168.5,332.1L169.0,332.6L169.5,333.1L170.0,333.5L170.5,334.0L171.0,334.5L171.5,335.0L172.0,335.5L172.5,336.0L173.0,336.5L173.5,337.0L174.0,337.5L174.5,338.0L175.0,338.5L175.5,339.1L176.0,339.6L176.5,340.1L177.0,340.7L177.5,341.2L178.0,341.8L178.5,342.3L179.0,342.9L179.5,343.5L180.0,344.0L180.5,344.6L181.0,345.2L181.5,345.7L182.0,346.3L182.5,346.9L183.0,347.5L183.5,348.1L184.0,348.7L184.5,349.3L185.0,349.8L185.5,350.4L186.0,351.0L186.5,351.6L187.0,352.2L187.5,352.8L188.0,353.4L188.5,354.0L189.0,354.6L189.5,355.2L190.0,355.8L190.5,356.4L191.0,357.0L191.5,357.6L192.0,358.2L192.5,358.8L193.0,359.4L193.5,360.0L194.0,360.6L194.5,361.2L195.0,361.8L195.5,362.4L196.0,363.0L196.5,363.6L197.0,364.2L197.5,364.7L198.0,365.3L198.5,365.9L199.0,366.5L199.5,367.1L200.0,367.6L200.5,368.2L201.0,368.8L201.5,369.3L202.0,369.9L202.5,370.5L203.0,371.0L203.5,371.6L204.0,372.1L204.5,372.7L205.0,373.2L205.5,373.8L206.0,374.3L206.5,374.8L207.0,375.4L207.5,375.9L208.0,376.4L208.5,376.9L209.0,377.4L209.5,377.9L210.0,378.4L210.5,378.9L211.0,379.4L211.5,379.9L212.0,380.4L212.5,380.9L213.0,381.4L213.5,381.9L214.0,382.3L214.5,382.8L215.0,383.3L215.5,383.7L216.0,384.2L216.5,384.6L217.0,385.1L217.5,385.5L218.0,385.9L218.5,386.4L219.0,386.8L219.5,387.2L220.0,387.6L220.5,388.0L221.0,388.4L221.5,388.8L222.0,389.2L222.5,389.6L223.0,390.0L223.5,390.4L224.0,390.7L224.5,391.1L225.0,391.5L225.5,391.8L226.0,392.2L226.5,392.5L227.0,392.9L227.5,393.2L228.0,393.6L228.5,393.9L229.0,394.2L229.5,394.5L230.0,394.9L230.5,395.2L231.0,395.5L231.5,395.8L232.0,396.1L232.5,396.4L233.0,396.6L233.5,396.9L234.0,397.2L234.5,397.5L235.0,397.8L235.5,398.0L236.0,398.3L236.5,398.5L237.0,398.8L237.5,399.0L238.0,399.3L238.5,399.5L239.0,399.8L239.5,400.0L240.0,400.2L240.5,400.4L241.0,400.7L241.5,400.9L242.0,401.1L242.5,401.3L243.0,401.5L243.5,401.7L244.0,401.9L244.5,402.1L245.0,402.3L245.5,402.4L246.0,402.6L246.5,402.8L247.0,403.0L247.5,403.2L248.0,403.3L248.5,403.5L249.0,403.6L249.5,403.8L250.0,404.0L250.5,404.1L251.0,404.2L251.5,404.4L252.0,404.5L252.5,404.7L253.0,404.8L253.5,404.9L254.0,405.1L254.5,405.2L255.0,405.3L255.5,405.4L256.0,405.6L256.5,405.7L257.0,405.8L257.5,405.9L258.0,406.0L258.5,406.1L259.0,406.2L259.5,406.3L260.0,406.4L260.5,406.5L261.0,406.6L261.5,406.7L262.0,406.8L262.5,406.9L263.0,406.9L263.5,407.0L264.0,407.1L264.5,407.2L265.0,407.3L265.5,407.3L266.0,407.4L266.5,407.5L267.0,407.5L267.5,407.6L268.0,407.7L268.5,407.7L269.0,407.8L269.5,407.9L270.0,407.9L270.5,408.0L271.0,408.0L271.5,408.1L272.0,408.1L272.5,408.2L273.0,408.2L273.5,408.3L274.0,408.3L274.5,408.4L275.0,408.4L275.5,408.5L276.0,408.5L276.5,408.6L277.0,408.6L277.5,408.6L278.0,408.7L278.5,408.7L279.0,408.7L279.5,408.8L280.0,408.8L280.5,408.8L281.0,408.9L281.5,408.9L282.0,408.9L282.5,409.0L283.0,409.0" stroke="#14e4ec" stroke-width="2.2"/>
<path d="M176.0,409.3L176.5,409.3L177.0,409.2L177.5,409.2L178.0,409.1L178.5,409.0L179.0,409.0L179.5,408.9L180.0,408.8L180.5,408.7L181.0,408.6L181.5,408.4L182.0,408.3L182.5,408.1L183.0,408.0L183.5,407.8L184.0,407.6L184.5,407.4L185.0,407.2L185.5,406.9L186.0,406.7L186.5,406.4L187.0,406.1L187.5,405.8L188.0,405.4L188.5,405.0L189.0,404.6L189.5,404.2L190.0,403.7L190.5,403.3L191.0,402.7L191.5,402.2L192.0,401.6L192.5,400.9L193.0,400.2L193.5,399.5L194.0,398.8L194.5,397.9L195.0,397.1L195.5,396.2L196.0,395.2L196.5,394.2L197.0,393.2L197.5,392.0L198.0,390.9L198.5,389.6L199.0,388.3L199.5,387.0L200.0,385.6L200.5,384.1L201.0,382.6L201.5,381.0L202.0,379.3L202.5,377.6L203.0,375.8L203.5,373.9L204.0,372.0L204.5,370.0L205.0,368.0L205.5,365.8L206.0,363.7L206.5,361.4L207.0,359.1L207.5,356.8L208.0,354.4L208.5,351.9L209.0,349.4L209.5,346.8L210.0,344.2L210.5,341.6L211.0,338.9L211.5,336.2L212.0,333.4L212.5,330.7L213.0,327.9L213.5,325.1L214.0,322.3L214.5,319.4L215.0,316.6L215.5,313.8L216.0,311.0L216.5,308.2L217.0,305.4L217.5,302.7L218.0,300.0L218.5,297.3L219.0,294.7L219.5,292.2L220.0,289.7L220.5,287.2L221.0,284.9L221.5,282.6L222.0,280.4L222.5,278.3L223.0,276.3L223.5,274.4L224.0,272.6L224.5,270.9L225.0,269.3L225.5,267.9L226.0,266.6L226.5,265.4L227.0,264.3L227.5,263.4L228.0,262.6L228.5,262.0L229.0,261.5L229.5,261.1L230.0,260.9L230.5,260.8L231.0,260.9L231.5,261.0L232.0,261.3L232.5,261.7L233.0,262.2L233.5,262.9L234.0,263.6L234.5,264.4L235.0,265.4L235.5,266.4L236.0,267.6L236.5,268.9L237.0,270.2L237.5,271.7L238.0,273.2L238.5,274.8L239.0,276.5L239.5,278.3L240.0,280.2L240.5,282.1L241.0,284.1L241.5,286.2L242.0,288.3L242.5,290.5L243.0,292.7L243.5,295.0L244.0,297.3L244.5,299.7L245.0,302.1L245.5,304.5L246.0,307.0L246.5,309.4L247.0,311.9L247.5,314.4L248.0,316.9L248.5,319.4L249.0,321.9L249.5,324.4L250.0,326.9L250.5,329.4L251.0,331.9L251.5,334.4L252.0,336.8L252.5,339.2L253.0,341.6L253.5,343.9L254.0,346.3L254.5,348.5L255.0,350.8L255.5,353.0L256.0,355.2L256.5,357.3L257.0,359.4L257.5,361.4L258.0,363.4L258.5,365.4L259.0,367.3L259.5,369.1L260.0,370.9L260.5,372.6L261.0,374.3L261.5,376.0L262.0,377.6L262.5,379.1L263.0,380.6L263.5,382.0L264.0,383.4L264.5,384.8L265.0,386.1L265.5,387.3L266.0,388.5L266.5,389.6L267.0,390.7L267.5,391.8L268.0,392.8L268.5,393.8L269.0,394.7L269.5,395.6L270.0,396.4L270.5,397.2L271.0,397.9L271.5,398.7L272.0,399.4L272.5,400.0L273.0,400.6L273.5,401.2L274.0,401.8L274.5,402.3L275.0,402.8L275.5,403.3L276.0,403.7L276.5,404.1L277.0,404.5L277.5,404.9L278.0,405.2L278.5,405.5L279.0,405.8L279.5,406.1L280.0,406.4L280.5,406.7L281.0,406.9L281.5,407.1L282.0,407.3L282.5,407.5L283.0,407.7L283.5,407.8L284.0,408.0L284.5,408.1L285.0,408.3L285.5,408.4L286.0,408.5L286.5,408.6L287.0,408.7L287.5,408.8L288.0,408.9L288.5,409.0L289.0,409.0L289.5,409.1L290.0,409.2" stroke="#11dd11" stroke-width="2.2"/>
</g>
<rect x="48.1" y="3.6" width="578.9" height="513.0" fill="none" stroke="#000" stroke-width="1.9"/>
<path d="M63.4,516.6v-3.6M63.4,3.6v3.6M94.7,516.6v-3.6M94.7,3.6v3.6M126.0,516.6v-7M126.0,3.6v7M157.3,516.6v-3.6M157.3,3.6v3.6M188.6,516.6v-3.6M188.6,3.6v3.6M219.8,516.6v-3.6M219.8,3.6v3.6M251.1,516.6v-3.6M251.1,3.6v3.6M282.4,516.6v-7M282.4,3.6v7M313.7,516.6v-3.6M313.7,3.6v3.6M345.0,516.6v-3.6M345.0,3.6v3.6M376.2,516.6v-3.6M376.2,3.6v3.6M407.5,516.6v-3.6M407.5,3.6v3.6M438.8,516.6v-7M438.8,3.6v7M470.1,516.6v-3.6M470.1,3.6v3.6M501.4,516.6v-3.6M501.4,3.6v3.6M532.6,516.6v-3.6M532.6,3.6v3.6M563.9,516.6v-3.6M563.9,3.6v3.6M595.2,516.6v-7M595.2,3.6v7M626.5,516.6v-3.6M626.5,3.6v3.6M48.1,16.4h2.8M627.0,16.4h-2.8M48.1,29.2h2.8M627.0,29.2h-2.8M48.1,42.0h2.8M627.0,42.0h-2.8M48.1,54.8h2.8M627.0,54.8h-2.8M48.1,67.6h6M627.0,67.6h-6M48.1,80.4h2.8M627.0,80.4h-2.8M48.1,93.2h2.8M627.0,93.2h-2.8M48.1,106.0h2.8M627.0,106.0h-2.8M48.1,118.8h2.8M627.0,118.8h-2.8M48.1,131.6h6M627.0,131.6h-6M48.1,144.4h2.8M627.0,144.4h-2.8M48.1,157.2h2.8M627.0,157.2h-2.8M48.1,170.0h2.8M627.0,170.0h-2.8M48.1,182.8h2.8M627.0,182.8h-2.8M48.1,195.6h6M627.0,195.6h-6M48.1,208.4h2.8M627.0,208.4h-2.8M48.1,221.2h2.8M627.0,221.2h-2.8M48.1,234.0h2.8M627.0,234.0h-2.8M48.1,246.8h2.8M627.0,246.8h-2.8M48.1,259.6h6M627.0,259.6h-6M48.1,272.4h2.8M627.0,272.4h-2.8M48.1,285.2h2.8M627.0,285.2h-2.8M48.1,298.0h2.8M627.0,298.0h-2.8M48.1,310.8h2.8M627.0,310.8h-2.8M48.1,323.6h6M627.0,323.6h-6M48.1,336.4h2.8M627.0,336.4h-2.8M48.1,349.2h2.8M627.0,349.2h-2.8M48.1,362.0h2.8M627.0,362.0h-2.8M48.1,374.8h2.8M627.0,374.8h-2.8M48.1,387.6h6M627.0,387.6h-6M48.1,400.4h2.8M627.0,400.4h-2.8M48.1,413.2h2.8M627.0,413.2h-2.8M48.1,426.0h2.8M627.0,426.0h-2.8M48.1,438.8h2.8M627.0,438.8h-2.8M48.1,451.6h6M627.0,451.6h-6M48.1,464.4h2.8M627.0,464.4h-2.8M48.1,477.2h2.8M627.0,477.2h-2.8M48.1,490.0h2.8M627.0,490.0h-2.8M48.1,502.8h2.8M627.0,502.8h-2.8" stroke="#000" stroke-width="1.6" fill="none"/>
<rect x="96.8" y="37.6" width="144.1" height="112.6" fill="none" stroke="#000" stroke-width="2.3"/>

<!-- Panel B -->
<g fill="none" stroke-linejoin="round">
<path d="M724.2,417.5L724.9,439.6L725.6,458.8L726.3,469.4L727.0,469.9L727.7,469.6L728.4,469.1L729.1,468.4L729.8,467.6L730.5,466.7L731.2,465.7L731.9,463.7L732.6,460.5L733.3,456.4L734.0,451.5L734.7,446.1L735.4,440.1L736.1,433.9L736.8,427.7L737.5,421.5L738.2,415.6L738.9,410.2L739.6,405.4L740.3,401.4L741.0,398.4L741.7,396.5L742.4,396.0L743.1,398.5L743.8,404.1L744.5,412.0L745.2,421.4L745.9,431.5L746.6,441.4L747.3,450.3L748.0,457.3L748.7,461.7L749.4,462.6L750.1,461.2L750.8,458.3L751.5,454.6L752.2,450.5L752.9,446.6L753.6,443.4L754.3,441.5L755.0,441.5L755.7,443.9L756.4,448.1L757.1,453.3L757.8,458.7L758.5,463.3L759.2,466.3L759.9,467.0L760.6,466.4L761.3,465.2L762.0,463.5L762.7,461.5L763.4,459.2L764.1,456.9L764.8,454.6L765.5,452.5L766.2,450.7L766.9,449.4L767.6,448.6L768.3,448.6L769.0,449.1L769.7,450.0L770.4,451.3L771.1,452.8L771.8,454.4L772.5,456.0L773.2,457.5L773.9,458.8L774.6,459.8L775.3,460.4L776.0,460.4L776.7,459.8L777.4,458.5L778.1,456.7L778.8,454.4L779.5,451.7L780.2,448.8L780.9,445.6L781.6,442.2L782.3,438.8L783.0,435.4L783.7,432.1L784.4,429.0L785.1,426.2L785.8,423.7L786.5,421.6L787.2,420.0L787.9,419.0L788.6,418.6L789.3,419.1L790.0,420.4L790.7,422.4L791.4,424.7L792.1,427.1L792.8,429.3L793.5,431.2L794.2,432.4L794.9,432.8L795.6,430.8L796.3,426.3L797.0,420.0L797.7,412.8L798.4,405.3L799.1,398.4L799.8,392.8L800.5,389.3L801.2,388.7L801.9,391.6L802.6,397.6L803.3,405.5L804.0,414.4L804.7,423.2L805.4,431.1L806.1,437.1L806.8,440.0L807.5,438.8L808.2,432.8L808.9,423.0L809.6,410.7L810.3,397.0L811.0,383.2L811.7,370.4L812.4,359.8L813.1,352.6L813.8,349.9L814.5,351.2L815.2,354.8L815.9,360.3L816.6,367.5L817.3,375.9L818.0,385.2L818.7,395.0L819.4,405.1L820.1,414.9L820.8,424.2L821.5,432.6L822.2,439.8L822.9,445.3L823.6,448.9L824.3,450.2L825.0,448.8L825.7,444.9L826.4,438.9L827.1,431.4L827.8,422.7L828.5,413.4L829.2,403.9L829.9,394.6L830.6,386.1L831.3,378.7L832.0,373.0L832.7,369.4L833.4,368.4L834.1,368.6L834.8,369.2L835.5,370.1L836.2,371.2L836.9,372.5L837.6,374.1L838.3,375.7L839.0,377.5L839.7,379.3L840.4,381.5L841.1,384.8L841.8,389.2L842.5,394.3L843.2,399.9L843.9,405.6L844.6,411.3L845.3,416.6L846.0,421.3L846.7,425.2L847.4,427.8L848.1,429.1L848.8,428.5L849.5,425.2L850.2,420.0L850.9,413.3L851.6,405.8L852.3,398.0L853.0,390.7L853.7,384.4L854.4,379.6L855.1,377.1L855.8,377.0L856.5,378.5L857.2,381.0L857.9,384.1L858.6,387.5L859.3,390.8L860.0,393.6L860.7,395.6L861.4,396.3L862.1,395.3L862.8,392.5L863.5,388.2L864.2,382.8L864.9,376.6L865.6,369.8L866.3,362.8L867.0,355.9L867.7,349.5L868.4,343.8L869.1,339.2L869.8,335.9L870.5,334.4L871.2,335.4L871.9,340.0L872.6,347.4L873.3,356.6L874.0,366.8L874.7,377.0L875.4,386.2L876.1,393.6L876.8,398.2L877.5,399.1L878.2,394.9L878.9,386.5L879.6,375.0L880.3,361.6L881.0,347.4L881.7,333.6L882.4,321.4L883.1,312.0L883.8,306.5L884.5,305.8L885.2,308.1L885.9,312.2L886.6,318.0L887.3,324.7L888.0,332.1L888.7,339.6L889.4,346.9L890.1,353.4L890.8,358.7L891.5,362.3L892.2,364.8L892.9,366.8L893.6,368.6L894.3,370.5L895.0,372.7L895.7,375.6L896.4,379.7L897.1,384.7L897.8,390.3L898.5,396.1L899.2,401.7L899.9,406.9L900.6,411.1L901.3,414.1L902.0,415.6L902.7,415.4L903.4,414.1L904.1,411.9L904.8,408.8L905.5,405.0L906.2,400.6L906.9,395.6L907.6,390.2L908.3,384.5L909.0,378.6L909.7,372.6L910.4,366.6L911.1,360.8L911.8,355.1L912.5,349.8L913.2,344.9L913.9,340.5L914.6,336.8L915.3,333.8L916.0,331.7L916.7,330.6L917.4,330.7L918.1,333.8L918.8,339.5L919.5,347.1L920.2,356.1L920.9,365.6L921.6,375.0L922.3,383.6L923.0,390.8L923.7,395.8L924.4,398.0L925.1,397.3L925.8,395.0L926.5,391.5L927.2,387.5L927.9,383.4L928.6,379.9L929.3,377.4L930.0,376.4L930.7,377.3L931.4,379.6L932.1,382.7L932.8,386.2L933.5,389.4L934.2,391.9L934.9,393.0L935.6,392.0L936.3,388.7L937.0,383.6L937.7,377.1L938.4,369.9L939.1,362.3L939.8,355.0L940.5,348.4L941.2,343.0L941.9,339.4L942.6,338.1L943.3,338.9L944.0,341.1L944.7,344.5L945.4,348.8L946.1,354.0L946.8,359.7L947.5,365.8L948.2,372.0L948.9,378.1L949.6,383.9L950.3,389.3L951.0,393.9L951.7,397.6L952.4,400.1L953.1,401.3L953.8,400.5L954.5,396.5L955.2,389.6L955.9,380.4L956.6,369.3L957.3,356.7L958.0,343.1L958.7,329.0L959.4,314.9L960.1,301.1L960.8,288.2L961.5,276.6L962.2,266.8L962.9,259.2L963.6,254.3L964.3,252.6L965.0,255.3L965.7,262.6L966.4,273.6L967.1,287.3L967.8,302.6L968.5,318.6L969.2,334.2L969.9,348.4L970.6,360.3L971.3,368.8L972.0,372.9L972.7,372.5L973.4,369.9L974.1,365.5L974.8,359.6L975.5,352.6L976.2,344.9L976.9,336.7L977.6,328.5L978.3,320.5L979.0,313.1L979.7,306.6L980.4,301.4L981.1,297.9L981.8,296.2L982.5,295.3L983.2,294.6L983.9,294.1L984.6,293.6L985.3,293.0L986.0,292.3L986.7,291.3L987.4,289.6L988.1,287.1L988.8,283.8L989.5,280.0L990.2,275.7L990.9,271.2L991.6,266.5L992.3,261.9L993.0,257.4L993.7,253.1L994.4,249.4L995.1,246.2L995.8,243.7L996.5,242.2L997.2,241.6L997.9,242.9L998.6,246.7L999.3,252.3L1000.0,259.5L1000.7,267.6L1001.4,276.3L1002.1,285.1L1002.8,293.5L1003.5,301.2L1004.2,307.5L1004.9,312.1L1005.6,314.5L1006.3,314.4L1007.0,312.1L1007.7,307.9L1008.4,302.2L1009.1,295.4L1009.8,287.8L1010.5,279.7L1011.2,271.6L1011.9,263.7L1012.6,256.4L1013.3,250.0L1014.0,244.9L1014.7,241.5L1015.4,240.0L1016.1,240.4L1016.8,241.6L1017.5,243.6L1018.2,246.3L1018.9,249.5L1019.6,253.2L1020.3,257.1L1021.0,261.2L1021.7,265.4L1022.4,269.5L1023.1,273.4L1023.8,277.1L1024.5,280.3L1025.2,283.0L1025.9,285.0L1026.6,286.2L1027.3,286.6L1028.0,286.0L1028.7,284.5L1029.4,282.3L1030.1,279.4L1030.8,276.0L1031.5,272.2L1032.2,268.1L1032.9,263.7L1033.6,259.3L1034.3,254.9L1035.0,250.6L1035.7,246.6L1036.4,242.8L1037.1,239.6L1037.8,236.9L1038.5,234.9L1039.2,233.7L1039.9,233.3L1040.6,234.0L1041.3,235.6L1042.0,237.8L1042.7,240.5L1043.4,243.5L1044.1,246.4L1044.8,249.0L1045.5,251.2L1046.2,252.7L1046.9,253.2L1047.6,252.8L1048.3,251.6L1049.0,249.8L1049.7,247.3L1050.4,244.2L1051.1,240.5L1051.8,236.4L1052.5,231.9L1053.2,227.1L1053.9,221.9L1054.6,216.5L1055.3,210.9L1056.0,205.2L1056.7,199.5L1057.4,193.7L1058.1,188.0L1058.8,182.4L1059.5,177.0L1060.2,171.8L1060.9,166.9L1061.6,162.3L1062.3,158.1L1063.0,154.4L1063.7,151.2L1064.4,148.7L1065.1,146.7L1065.8,145.4L1066.5,144.9L1067.2,145.4L1067.9,147.3L1068.6,150.3L1069.3,154.2L1070.0,158.8L1070.7,163.9L1071.4,169.3L1072.1,174.8L1072.8,180.2L1073.5,185.2L1074.2,189.7L1074.9,193.5L1075.6,196.3L1076.3,197.9L1077.0,198.4L1077.7,198.8L1078.4,199.1L1079.1,199.3L1079.8,199.6L1080.5,199.7L1081.2,199.8L1081.9,199.8L1082.6,199.8L1083.3,199.8L1084.0,199.8L1084.7,199.8L1085.4,199.8L1086.1,199.8L1086.8,199.7L1087.5,197.2L1088.2,192.3L1088.9,185.6L1089.6,177.9L1090.3,169.9L1091.0,162.3L1091.7,155.9L1092.4,151.3L1093.1,149.2L1093.8,150.2L1094.5,153.8L1095.2,159.1L1095.9,165.7L1096.6,173.0L1097.3,180.2L1098.0,186.8L1098.7,192.1L1099.4,195.5L1100.1,196.6L1100.8,196.9L1101.5,197.2L1102.2,197.4L1102.9,197.7L1103.6,197.8L1104.3,198.0L1105.0,198.1L1105.7,198.2L1106.4,198.2L1107.1,198.1L1107.8,197.9L1108.5,197.6L1109.2,197.1L1109.9,196.5L1110.6,194.7L1111.3,190.6L1112.0,184.7L1112.7,177.3L1113.4,168.8L1114.1,159.5L1114.8,149.9L1115.5,140.2L1116.2,130.9L1116.9,122.3L1117.6,114.9L1118.3,108.9L1119.0,104.7L1119.7,102.7L1120.4,103.3L1121.1,106.4L1121.8,111.5L1122.5,118.3L1123.2,126.3L1123.9,135.1L1124.6,144.4L1125.3,153.6L1126.0,162.3L1126.7,170.2L1127.4,176.8L1128.1,181.6L1128.8,184.4L1129.5,184.3L1130.2,179.5L1130.9,170.9L1131.6,159.9L1132.3,148.1L1133.0,137.0L1133.7,128.0L1134.4,122.5L1135.1,121.8L1135.8,124.2L1136.5,128.9L1137.2,135.6L1137.9,143.8L1138.6,153.4L1139.3,163.9L1140.0,175.0L1140.7,186.5L1141.4,197.9L1142.1,209.0L1142.8,219.4L1143.5,228.8L1144.2,236.8L1144.9,243.2L1145.6,247.5L1146.3,249.6L1147.0,249.5L1147.7,248.6L1148.4,247.2L1149.1,245.2L1149.8,242.9L1150.5,240.3L1151.2,237.6L1151.9,234.8L1152.6,232.1L1153.3,229.5L1154.0,227.3L1154.7,225.4L1155.4,224.0L1156.1,223.2L1156.8,223.1L1157.5,223.6L1158.2,224.5L1158.9,225.6L1159.6,226.9L1160.3,228.2L1161.0,229.4L1161.7,230.4L1162.4,231.1L1163.1,231.4L1163.8,230.4L1164.5,227.8L1165.2,224.0L1165.9,219.5L1166.6,214.5L1167.3,209.7L1168.0,205.4L1168.7,202.1L1169.4,200.1L1170.1,199.9L1170.8,201.0L1171.5,203.0L1172.2,205.4L1172.9,208.0L1173.6,210.2L1174.3,211.9L1175.0,212.5L1175.7,212.0L1176.4,210.6L1177.1,208.8L1177.8,206.8L1178.5,204.9L1179.2,203.5L1179.9,202.8L1180.6,203.8L1181.3,207.2L1182.0,212.5L1182.7,219.2L1183.4,226.8L1184.1,234.9L1184.8,242.9L1185.5,250.3L1186.2,256.7L1186.9,261.5L1187.6,264.3L1188.3,264.5L1189.0,263.0L1189.7,260.1L1190.4,256.2L1191.1,251.8L1191.8,247.1L1192.5,242.6L1193.2,238.6L1193.9,235.6L1194.6,233.8L1195.3,233.6L1196.0,234.7L1196.7,236.5L1197.4,238.6L1198.1,240.3L1198.8,241.2L1199.5,240.9L1200.2,239.1L1200.9,236.5L1201.6,233.6L1202.3,231.0L1203.0,229.2L1203.7,228.9L1204.4,231.5L1205.1,236.8L1205.8,244.4L1206.5,253.7L1207.2,264.1L1207.9,275.1L1208.6,286.1L1209.3,296.7L1210.0,306.1L1210.7,314.0L1211.4,319.7L1212.1,322.7L1212.8,322.6L1213.5,320.0L1214.2,315.5L1214.9,309.2L1215.6,301.5L1216.3,292.8L1217.0,283.3L1217.7,273.5L1218.4,263.7L1219.1,254.1L1219.8,245.1L1220.5,237.1L1221.2,230.4L1221.9,225.3L1222.6,222.1L1223.3,221.2L1224.0,222.1L1224.7,224.2L1225.4,227.3L1226.1,231.2L1226.8,235.7L1227.5,240.4L1228.2,245.3L1228.9,250.0L1229.6,254.3L1230.3,258.3L1231.0,262.5L1231.7,267.2L1232.4,272.1L1233.1,277.2L1233.8,282.4L1234.5,287.5L1235.2,292.4L1235.9,297.0L1236.6,301.2L1237.3,304.8L1238.0,307.8L1238.7,310.0L1239.4,311.2L1240.1,311.4L1240.8,310.3L1241.5,308.1L1242.2,304.9L1242.9,301.0L1243.6,296.7L1244.3,292.1L1245.0,287.7L1245.7,283.5L1246.4,279.9L1247.1,277.0L1247.8,275.2L1248.5,274.7L1249.2,275.0L1249.9,275.5L1250.6,276.1L1251.3,276.5L1252.0,276.1L1252.7,273.5L1253.4,268.8L1254.1,262.4L1254.8,254.7L1255.5,246.1L1256.2,236.9L1256.9,227.6L1257.6,218.4L1258.3,209.8L1259.0,202.1L1259.7,195.7L1260.4,191.0L1261.1,188.4L1261.8,188.4L1262.5,192.5L1263.2,200.1L1263.9,210.5L1264.6,222.7L1265.3,236.1L1266.0,249.7L1266.7,262.7L1267.4,274.3L1268.1,283.6L1268.8,289.8L1269.5,292.0L1270.2,289.5L1270.9,282.3L1271.6,271.3L1272.3,257.2L1273.0,240.6L1273.7,222.3L1274.4,203.0L1275.1,183.5L1275.8,164.4L1276.5,146.6L1277.2,130.6L1277.9,117.3L1278.6,107.3L1279.3,101.4L1280.0,100.2L1280.7,102.5L1281.4,107.0L1282.1,113.1L1282.8,120.2L1283.5,127.5L1284.2,134.3L1284.9,140.1L1285.6,144.0L1286.3,145.5L1287.0,144.9L1287.7,143.3L1288.4,140.9L1289.1,137.8L1289.8,134.2L1290.5,130.3L1291.2,126.3L1291.9,122.4L1292.6,118.8L1293.3,115.6L1294.0,113.1L1294.7,111.3L1295.4,110.6L1296.1,111.1L1296.8,112.4L1297.5,114.2L1298.2,115.9L1298.9,116.9L1299.6,116.8L1300.3,115.3L1301.0,112.9L1301.7,109.9L1302.4,106.6L1303.1,103.4L1303.8,100.7L1304.5,98.8L1305.2,98.1L1305.9,98.4L1306.6,99.2L1307.3,100.4L1308.0,102.1L1308.7,104.2L1309.4,106.5L1310.1,109.2L1310.8,112.1L1311.5,115.1L1312.2,118.3L1312.9,121.5L1313.6,124.8L1314.3,128.0L1315.0,131.2L1315.7,134.7L1316.4,138.6L1317.1,142.8L1317.8,147.3L1318.5,152.0L1319.2,157.0L1319.9,162.1L1320.6,167.3L1321.3,172.5L1322.0,177.8L1322.7,183.1L1323.4,188.3L1324.1,193.3L1324.8,198.3L1325.5,203.1L1326.2,208.0L1326.9,212.9L1327.6,217.9L1328.3,223.0L1329.0,228.3L1329.7,233.8L1330.4,239.6L1331.1,245.7L1331.8,252.8L1332.5,262.2L1333.2,272.1L1333.9,280.8L1334.6,286.5L1335.3,288.1L1336.0,288.5L1336.7,288.8L1337.4,289.0L1338.1,289.4L1338.8,290.2L1339.5,293.0L1340.2,297.6L1340.9,303.7L1341.6,310.9L1342.3,318.7L1343.0,326.7L1343.7,334.4L1344.4,341.5L1345.1,347.5L1345.8,352.0L1346.5,354.5L1347.2,354.9L1347.9,354.6L1348.6,354.2L1349.3,353.5L1350.0,352.9L1350.7,352.2L1351.4,351.5L1352.1,351.0L1352.8,350.7L1353.5,350.6L1354.2,351.4L1354.9,353.1L1355.6,355.6L1356.3,358.8L1357.0,362.5L1357.7,366.6L1358.4,370.9L1359.1,375.5L1359.8,380.1L1360.5,384.6L1361.2,388.8L1361.9,392.8L1362.6,396.2L1363.3,399.1L1364.0,401.3L1364.7,402.6L1365.4,403.0L1366.1,402.7L1366.8,401.9L1367.5,400.6L1368.2,399.1L1368.9,397.2L1369.6,395.1L1370.3,392.8L1371.0,390.4L1371.7,388.0L1372.4,385.5L1373.1,383.2L1373.8,380.9L1374.5,378.8L1375.2,377.0L1375.9,375.5L1376.6,374.3L1377.3,373.6L1378.0,373.3L1378.7,374.5L1379.4,377.8L1380.1,382.8L1380.8,388.9L1381.5,395.7L1382.2,402.8L1382.9,409.5L1383.6,415.5L1384.3,420.2L1385.0,423.3L1385.7,424.2L1386.4,423.1L1387.1,420.8L1387.8,417.4L1388.5,413.5L1389.2,409.4L1389.9,405.5L1390.6,402.1L1391.3,399.8L1392.0,398.7L1392.7,399.9L1393.4,403.6L1394.1,408.8L1394.8,414.7L1395.5,420.1L1396.2,424.1L1396.9,425.6L1397.6,424.6L1398.3,421.8L1399.0,417.6L1399.7,412.4L1400.4,406.8L1401.1,401.0L1401.8,395.5L1402.5,390.7L1403.2,387.0L1403.9,384.9L1404.6,384.8L1405.3,386.7L1406.0,389.9L1406.7,393.8L1407.4,397.7L1408.1,400.9L1408.8,402.8L1409.5,402.7L1410.2,401.2L1410.9,398.4L1411.6,394.7L1412.3,390.4L1413.0,385.6L1413.7,380.8L1414.4,376.0L1415.1,371.7L1415.8,368.0L1416.5,365.2L1417.2,363.7L1417.9,363.5L1418.6,364.5L1419.3,366.5L1420.0,369.3L1420.7,372.8L1421.4,376.8L1422.1,381.2L1422.8,385.8L1423.5,390.5L1424.2,395.2L1424.9,399.7L1425.6,403.8L1426.3,407.5L1427.0,410.5L1427.7,412.7L1428.4,414.0L1429.1,414.2L1429.8,412.9L1430.5,410.0L1431.2,405.8L1431.9,400.5L1432.6,394.4L1433.3,387.6L1434.0,380.5L1434.7,373.1L1435.4,365.8L1436.1,358.8L1436.8,352.3L1437.5,346.5L1438.2,341.7L1438.9,338.0L1439.6,335.7L1440.3,335.1L1441.0,336.9L1441.7,340.9L1442.4,346.4L1443.1,352.5L1443.8,358.6L1444.5,363.9L1445.2,367.6L1445.9,369.0L1446.6,368.9L1447.3,368.6L1448.0,368.3L1448.7,368.0L1449.4,367.7L1450.1,367.6L1450.8,367.8L1451.5,368.3L1452.2,369.0L1452.9,369.6L1453.6,370.1L1454.3,370.4L1455.0,369.6L1455.7,366.7L1456.4,362.3L1457.1,356.6L1457.8,350.0L1458.5,342.9L1459.2,335.8L1459.9,329.0L1460.6,322.8L1461.3,317.8L1462.0,314.2L1462.7,312.5L1463.4,313.2L1464.1,316.6L1464.8,322.3L1465.5,329.8L1466.2,338.7L1466.9,348.4L1467.6,358.4L1468.3,368.3L1469.0,377.6L1469.7,385.8L1470.4,392.3L1471.1,396.8L1471.8,398.7L1472.5,397.7L1473.2,394.1L1473.9,388.4L1474.6,381.1L1475.3,372.5L1476.0,363.2L1476.7,353.5L1477.4,343.9L1478.1,334.8L1478.8,326.7L1479.5,320.0L1480.2,315.2L1480.9,312.7L1481.6,312.5L1482.3,313.2L1483.0,314.6L1483.7,316.7L1484.4,319.7L1485.1,323.6L1485.8,328.4" stroke="#000" stroke-width="3" clip-path="url(#cb)"/>
<path d="M724,436.6H1204" stroke="#0c0c66" stroke-width="2.4"/>
<path d="M1204.0,435.2L1205.0,435.1L1206.0,435.0L1207.0,435.0L1208.0,434.9L1209.0,434.8L1210.0,434.7L1211.0,434.6L1212.0,434.4L1213.0,434.3L1214.0,434.1L1215.0,433.9L1216.0,433.7L1217.0,433.5L1218.0,433.2L1219.0,432.9L1220.0,432.6L1221.0,432.3L1222.0,431.9L1223.0,431.5L1224.0,431.0L1225.0,430.5L1226.0,430.0L1227.0,429.4L1228.0,428.7L1229.0,428.0L1230.0,427.2L1231.0,426.4L1232.0,425.5L1233.0,424.5L1234.0,423.4L1235.0,422.3L1236.0,421.0L1237.0,419.7L1238.0,418.2L1239.0,416.7L1240.0,415.1L1241.0,413.3L1242.0,411.4L1243.0,409.4L1244.0,407.3L1245.0,405.0L1246.0,402.6L1247.0,400.0L1248.0,397.3L1249.0,394.5L1250.0,391.5L1251.0,388.3L1252.0,385.0L1253.0,381.6L1254.0,378.0L1255.0,374.2L1256.0,370.2L1257.0,366.1L1258.0,361.9L1259.0,357.5L1260.0,352.9L1261.0,348.2L1262.0,343.3L1263.0,338.4L1264.0,333.2L1265.0,328.0L1266.0,322.6L1267.0,317.1L1268.0,311.6L1269.0,305.9L1270.0,300.2L1271.0,294.4L1272.0,288.5L1273.0,282.7L1274.0,276.8L1275.0,270.9L1276.0,265.0L1277.0,259.1L1278.0,253.3L1279.0,247.5L1280.0,241.8L1281.0,236.3L1282.0,230.8L1283.0,225.5L1284.0,220.3L1285.0,215.3L1286.0,210.5L1287.0,205.9L1288.0,201.5L1289.0,197.3L1290.0,193.4L1291.0,189.8L1292.0,186.5L1293.0,183.4L1294.0,180.7L1295.0,178.3L1296.0,176.2L1297.0,174.4L1298.0,173.0L1299.0,171.9L1300.0,171.2L1301.0,170.8L1302.0,170.8L1303.0,171.2L1304.0,171.9L1305.0,173.0L1306.0,174.4L1307.0,176.2L1308.0,178.3L1309.0,180.7L1310.0,183.4L1311.0,186.5L1312.0,189.8L1313.0,193.4L1314.0,197.3L1315.0,201.5L1316.0,205.9L1317.0,210.5L1318.0,215.3L1319.0,220.3L1320.0,225.5L1321.0,230.8L1322.0,236.3L1323.0,241.8L1324.0,247.5L1325.0,253.3L1326.0,259.1L1327.0,265.0L1328.0,270.9L1329.0,276.8L1330.0,282.7L1331.0,288.5L1332.0,294.4L1333.0,300.2L1334.0,305.9L1335.0,311.6L1336.0,317.1L1337.0,322.6L1338.0,328.0L1339.0,333.2L1340.0,338.4L1341.0,343.3L1342.0,348.2L1343.0,352.9L1344.0,357.5L1345.0,361.9L1346.0,366.1L1347.0,370.2L1348.0,374.2L1349.0,378.0L1350.0,381.6L1351.0,385.0L1352.0,388.3L1353.0,391.5L1354.0,394.5L1355.0,397.3L1356.0,400.0L1357.0,402.6L1358.0,405.0L1359.0,407.3L1360.0,409.4L1361.0,411.4L1362.0,413.3L1363.0,415.1L1364.0,416.7L1365.0,418.2L1366.0,419.7L1367.0,421.0L1368.0,422.3L1369.0,423.4L1370.0,424.5L1371.0,425.5L1372.0,426.4L1373.0,427.2L1374.0,428.0L1375.0,428.7L1376.0,429.4L1377.0,430.0L1378.0,430.5L1379.0,431.0L1380.0,431.5L1381.0,431.9L1382.0,432.3L1383.0,432.6L1384.0,432.9L1385.0,433.2L1386.0,433.5L1387.0,433.7L1388.0,433.9L1389.0,434.1L1390.0,434.3L1391.0,434.4L1392.0,434.6L1393.0,434.7L1394.0,434.8L1395.0,434.9L1396.0,435.0L1397.0,435.0L1398.0,435.1L1399.0,435.2L1400.0,435.2L1401.0,435.3L1402.0,435.3L1403.0,435.3L1404.0,435.4L1405.0,435.4L1406.0,435.4L1407.0,435.5L1408.0,435.5L1409.0,435.5L1410.0,435.5L1411.0,435.5L1412.0,435.5L1413.0,435.5L1414.0,435.5L1415.0,435.6L1416.0,435.6L1417.0,435.6L1418.0,435.6L1419.0,435.6L1420.0,435.6L1421.0,435.6L1422.0,435.6L1423.0,435.6L1424.0,435.6L1425.0,435.6L1426.0,435.6L1427.0,435.6L1428.0,435.6L1429.0,435.6L1430.0,435.6L1431.0,435.6L1432.0,435.6L1433.0,435.6L1434.0,435.6L1435.0,435.6L1436.0,435.6L1437.0,435.6L1438.0,435.6L1439.0,435.6L1440.0,435.6L1441.0,435.6L1442.0,435.6L1443.0,435.6L1444.0,435.6L1445.0,435.6L1446.0,435.6L1447.0,435.6L1448.0,435.6L1449.0,435.6L1450.0,435.6L1451.0,435.6L1452.0,435.6L1453.0,435.6L1454.0,435.6L1455.0,435.6L1456.0,435.6L1457.0,435.6L1458.0,435.6L1459.0,435.6L1460.0,435.6L1461.0,435.6L1462.0,435.6L1463.0,435.6L1464.0,435.6L1465.0,435.6L1466.0,435.6L1467.0,435.6L1468.0,435.6L1469.0,435.6L1470.0,435.6L1471.0,435.6L1472.0,435.6L1473.0,435.6L1474.0,435.6L1475.0,435.6L1476.0,435.6L1477.0,435.6L1478.0,435.6L1479.0,435.6L1480.0,435.6L1481.0,435.6L1482.0,435.6L1483.0,435.6L1484.0,435.6" stroke="#1616c8" stroke-width="2.5"/>
<path d="M1200.0,235.8L1201.0,237.2L1202.0,238.6L1203.0,240.0L1204.0,241.5L1205.0,242.9L1206.0,244.3L1207.0,245.7L1208.0,247.2L1209.0,248.6L1210.0,250.1L1211.0,251.5L1212.0,253.0L1213.0,254.4L1214.0,255.9L1215.0,257.3L1216.0,258.8L1217.0,260.2L1218.0,261.7L1219.0,263.2L1220.0,264.6L1221.0,266.1L1222.0,267.6L1223.0,269.0L1224.0,270.5L1225.0,272.0L1226.0,273.4L1227.0,274.9L1228.0,276.4L1229.0,277.8L1230.0,279.3L1231.0,280.8L1232.0,282.2L1233.0,283.7L1234.0,285.1L1235.0,286.6L1236.0,288.0L1237.0,289.5L1238.0,290.9L1239.0,292.4L1240.0,293.8L1241.0,295.3L1242.0,296.7L1243.0,298.1L1244.0,299.5L1245.0,301.0L1246.0,302.4L1247.0,303.8L1248.0,305.2L1249.0,306.6L1250.0,308.0L1251.0,309.4L1252.0,310.8L1253.0,312.2L1254.0,313.5L1255.0,314.9L1256.0,316.3L1257.0,317.6L1258.0,319.0L1259.0,320.3L1260.0,321.7L1261.0,323.0L1262.0,324.3L1263.0,325.6L1264.0,326.9L1265.0,328.2L1266.0,329.5L1267.0,330.8L1268.0,332.1L1269.0,333.4L1270.0,334.6L1271.0,335.9L1272.0,337.1L1273.0,338.4L1274.0,339.6L1275.0,340.8L1276.0,342.1L1277.0,343.3L1278.0,344.5L1279.0,345.7L1280.0,346.8L1281.0,348.0L1282.0,349.2L1283.0,350.3L1284.0,351.5L1285.0,352.6L1286.0,353.8L1287.0,354.9L1288.0,356.0L1289.0,357.1L1290.0,358.2L1291.0,359.3L1292.0,360.3L1293.0,361.4L1294.0,362.5L1295.0,363.5L1296.0,364.5L1297.0,365.6L1298.0,366.6L1299.0,367.6L1300.0,368.6L1301.0,369.6L1302.0,370.6L1303.0,371.5L1304.0,372.5L1305.0,373.4L1306.0,374.4L1307.0,375.3L1308.0,376.2L1309.0,377.2L1310.0,378.1L1311.0,379.0L1312.0,379.8L1313.0,380.7L1314.0,381.6L1315.0,382.4L1316.0,383.3L1317.0,384.1L1318.0,384.9L1319.0,385.8L1320.0,386.6L1321.0,387.4L1322.0,388.2L1323.0,388.9L1324.0,389.7L1325.0,390.5L1326.0,391.2L1327.0,392.0L1328.0,392.7L1329.0,393.4L1330.0,394.2L1331.0,394.9L1332.0,395.6L1333.0,396.3L1334.0,396.9L1335.0,397.6L1336.0,398.3L1337.0,398.9L1338.0,399.6L1339.0,400.2L1340.0,400.8L1341.0,401.5L1342.0,402.1L1343.0,402.7L1344.0,403.3L1345.0,403.9L1346.0,404.4L1347.0,405.0L1348.0,405.6L1349.0,406.1L1350.0,406.7L1351.0,407.2L1352.0,407.7L1353.0,408.3L1354.0,408.8L1355.0,409.3L1356.0,409.8L1357.0,410.3L1358.0,410.8L1359.0,411.2L1360.0,411.7L1361.0,412.2L1362.0,412.6L1363.0,413.1L1364.0,413.5L1365.0,414.0L1366.0,414.4L1367.0,414.8L1368.0,415.2L1369.0,415.6L1370.0,416.0L1371.0,416.4L1372.0,416.8L1373.0,417.2L1374.0,417.6L1375.0,417.9L1376.0,418.3L1377.0,418.7L1378.0,419.0L1379.0,419.4L1380.0,419.7L1381.0,420.0L1382.0,420.4L1383.0,420.7L1384.0,421.0L1385.0,421.3L1386.0,421.6L1387.0,421.9L1388.0,422.2L1389.0,422.5L1390.0,422.8L1391.0,423.0L1392.0,423.3L1393.0,423.6L1394.0,423.9L1395.0,424.1L1396.0,424.4L1397.0,424.6L1398.0,424.9L1399.0,425.1L1400.0,425.3L1401.0,425.6L1402.0,425.8L1403.0,426.0L1404.0,426.2L1405.0,426.4L1406.0,426.6L1407.0,426.9L1408.0,427.1L1409.0,427.3L1410.0,427.4L1411.0,427.6L1412.0,427.8L1413.0,428.0L1414.0,428.2L1415.0,428.4L1416.0,428.5L1417.0,428.7L1418.0,428.9L1419.0,429.0L1420.0,429.2L1421.0,429.3L1422.0,429.5L1423.0,429.6L1424.0,429.8L1425.0,429.9L1426.0,430.1L1427.0,430.2L1428.0,430.3L1429.0,430.5L1430.0,430.6L1431.0,430.7L1432.0,430.8L1433.0,430.9L1434.0,431.1L1435.0,431.2L1436.0,431.3L1437.0,431.4L1438.0,431.5L1439.0,431.6L1440.0,431.7L1441.0,431.8L1442.0,431.9L1443.0,432.0L1444.0,432.1L1445.0,432.2L1446.0,432.3L1447.0,432.4L1448.0,432.4L1449.0,432.5L1450.0,432.6L1451.0,432.7L1452.0,432.8L1453.0,432.8L1454.0,432.9L1455.0,433.0L1456.0,433.0L1457.0,433.1L1458.0,433.2L1459.0,433.2L1460.0,433.3L1461.0,433.4L1462.0,433.4L1463.0,433.5L1464.0,433.6L1465.0,433.6L1466.0,433.7L1467.0,433.7L1468.0,433.8L1469.0,433.8L1470.0,433.9L1471.0,433.9L1472.0,434.0L1473.0,434.0L1474.0,434.1L1475.0,434.1L1476.0,434.1L1477.0,434.2L1478.0,434.2L1479.0,434.3L1480.0,434.3L1481.0,434.3L1482.0,434.4L1483.0,434.4L1484.0,434.4" stroke="#18e018" stroke-width="2.5"/>
<path d="M724.5,434.8L725.5,434.8L726.5,434.8L727.5,434.7L728.5,434.7L729.5,434.7L730.5,434.6L731.5,434.6L732.5,434.6L733.5,434.6L734.5,434.5L735.5,434.5L736.5,434.5L737.5,434.4L738.5,434.4L739.5,434.4L740.5,434.3L741.5,434.3L742.5,434.2L743.5,434.2L744.5,434.2L745.5,434.1L746.5,434.1L747.5,434.0L748.5,434.0L749.5,433.9L750.5,433.9L751.5,433.8L752.5,433.8L753.5,433.7L754.5,433.7L755.5,433.6L756.5,433.6L757.5,433.5L758.5,433.5L759.5,433.4L760.5,433.3L761.5,433.3L762.5,433.2L763.5,433.2L764.5,433.1L765.5,433.0L766.5,432.9L767.5,432.9L768.5,432.8L769.5,432.7L770.5,432.6L771.5,432.6L772.5,432.5L773.5,432.4L774.5,432.3L775.5,432.2L776.5,432.1L777.5,432.0L778.5,431.9L779.5,431.9L780.5,431.8L781.5,431.7L782.5,431.6L783.5,431.4L784.5,431.3L785.5,431.2L786.5,431.1L787.5,431.0L788.5,430.9L789.5,430.8L790.5,430.6L791.5,430.5L792.5,430.4L793.5,430.3L794.5,430.1L795.5,430.0L796.5,429.8L797.5,429.7L798.5,429.6L799.5,429.4L800.5,429.3L801.5,429.1L802.5,428.9L803.5,428.8L804.5,428.6L805.5,428.4L806.5,428.3L807.5,428.1L808.5,427.9L809.5,427.7L810.5,427.5L811.5,427.3L812.5,427.2L813.5,427.0L814.5,426.8L815.5,426.5L816.5,426.3L817.5,426.1L818.5,425.9L819.5,425.7L820.5,425.4L821.5,425.2L822.5,425.0L823.5,424.7L824.5,424.5L825.5,424.2L826.5,424.0L827.5,423.7L828.5,423.5L829.5,423.2L830.5,422.9L831.5,422.6L832.5,422.3L833.5,422.0L834.5,421.8L835.5,421.5L836.5,421.1L837.5,420.8L838.5,420.5L839.5,420.2L840.5,419.9L841.5,419.5L842.5,419.2L843.5,418.8L844.5,418.5L845.5,418.1L846.5,417.8L847.5,417.4L848.5,417.0L849.5,416.6L850.5,416.2L851.5,415.8L852.5,415.4L853.5,415.0L854.5,414.6L855.5,414.2L856.5,413.7L857.5,413.3L858.5,412.9L859.5,412.4L860.5,411.9L861.5,411.5L862.5,411.0L863.5,410.5L864.5,410.0L865.5,409.5L866.5,409.0L867.5,408.5L868.5,408.0L869.5,407.5L870.5,406.9L871.5,406.4L872.5,405.8L873.5,405.3L874.5,404.7L875.5,404.1L876.5,403.6L877.5,403.0L878.5,402.4L879.5,401.8L880.5,401.1L881.5,400.5L882.5,399.9L883.5,399.2L884.5,398.6L885.5,397.9L886.5,397.3L887.5,396.6L888.5,395.9L889.5,395.2L890.5,394.5L891.5,393.8L892.5,393.1L893.5,392.3L894.5,391.6L895.5,390.9L896.5,390.1L897.5,389.3L898.5,388.6L899.5,387.8L900.5,387.0L901.5,386.2L902.5,385.4L903.5,384.5L904.5,383.7L905.5,382.9L906.5,382.0L907.5,381.1L908.5,380.3L909.5,379.4L910.5,378.5L911.5,377.6L912.5,376.7L913.5,375.8L914.5,374.9L915.5,373.9L916.5,373.0L917.5,372.0L918.5,371.1L919.5,370.1L920.5,369.1L921.5,368.1L922.5,367.1L923.5,366.1L924.5,365.1L925.5,364.0L926.5,363.0L927.5,361.9L928.5,360.9L929.5,359.8L930.5,358.7L931.5,357.6L932.5,356.5L933.5,355.4L934.5,354.3L935.5,353.2L936.5,352.1L937.5,350.9L938.5,349.8L939.5,348.6L940.5,347.4L941.5,346.2L942.5,345.1L943.5,343.9L944.5,342.7L945.5,341.5L946.5,340.2L947.5,339.0L948.5,337.8L949.5,336.5L950.5,335.3L951.5,334.0L952.5,332.7L953.5,331.5L954.5,330.2L955.5,328.9L956.5,327.6L957.5,326.3L958.5,325.0L959.5,323.6L960.5,322.3L961.5,321.0L962.5,319.6L963.5,318.3L964.5,316.9L965.5,315.6L966.5,314.2L967.5,312.8L968.5,311.5L969.5,310.1L970.5,308.7L971.5,307.3L972.5,305.9L973.5,304.5L974.5,303.1L975.5,301.7L976.5,300.3L977.5,298.8L978.5,297.4L979.5,296.0L980.5,294.5L981.5,293.1L982.5,291.7L983.5,290.2L984.5,288.8L985.5,287.3L986.5,285.9L987.5,284.4L988.5,283.0L989.5,281.5L990.5,280.0L991.5,278.6L992.5,277.1L993.5,275.6L994.5,274.2L995.5,272.7L996.5,271.2L997.5,269.8L998.5,268.3L999.5,266.8L1000.5,265.4L1001.5,263.9L1002.5,262.4L1003.5,261.0L1004.5,259.5L1005.5,258.1L1006.5,256.6L1007.5,255.1L1008.5,253.7L1009.5,252.2L1010.5,250.8L1011.5,249.3L1012.5,247.9L1013.5,246.5L1014.5,245.0L1015.5,243.6L1016.5,242.2L1017.5,240.7L1018.5,239.3L1019.5,237.9L1020.5,236.5L1021.5,235.1L1022.5,233.7L1023.5,232.3L1024.5,230.9L1025.5,229.6L1026.5,228.2L1027.5,226.8L1028.5,225.5L1029.5,224.1L1030.5,222.8L1031.5,221.5L1032.5,220.2L1033.5,218.8L1034.5,217.5L1035.5,216.2L1036.5,215.0L1037.5,213.7L1038.5,212.4L1039.5,211.2L1040.5,209.9L1041.5,208.7L1042.5,207.5L1043.5,206.3L1044.5,205.1L1045.5,203.9L1046.5,202.7L1047.5,201.6L1048.5,200.4L1049.5,199.3L1050.5,198.1L1051.5,197.0L1052.5,195.9L1053.5,194.9L1054.5,193.8L1055.5,192.7L1056.5,191.7L1057.5,190.7L1058.5,189.7L1059.5,188.7L1060.5,187.7L1061.5,186.7L1062.5,185.8L1063.5,184.9L1064.5,183.9L1065.5,183.0L1066.5,182.2L1067.5,181.3L1068.5,180.4L1069.5,179.6L1070.5,178.8L1071.5,178.0L1072.5,177.2L1073.5,176.5L1074.5,175.7L1075.5,175.0L1076.5,174.3L1077.5,173.6L1078.5,172.9L1079.5,172.3L1080.5,171.7L1081.5,171.1L1082.5,170.5L1083.5,169.9L1084.5,169.3L1085.5,168.8L1086.5,168.3L1087.5,167.8L1088.5,167.3L1089.5,166.9L1090.5,166.4L1091.5,166.0L1092.5,165.6L1093.5,165.3L1094.5,164.9L1095.5,164.6L1096.5,164.3L1097.5,164.0L1098.5,163.7L1099.5,163.5L1100.5,163.3L1101.5,163.1L1102.5,162.9L1103.5,162.7L1104.5,162.6L1105.5,162.5L1106.5,162.4L1107.5,162.3L1108.5,162.2L1109.5,162.2L1110.5,162.2L1111.5,162.2L1112.5,162.2L1113.5,162.3L1114.5,162.4L1115.5,162.5L1116.5,162.6L1117.5,162.7L1118.5,162.9L1119.5,163.1L1120.5,163.3L1121.5,163.5L1122.5,163.7L1123.5,164.0L1124.5,164.3L1125.5,164.6L1126.5,164.9L1127.5,165.3L1128.5,165.6L1129.5,166.0L1130.5,166.4L1131.5,166.9L1132.5,167.3L1133.5,167.8L1134.5,168.3L1135.5,168.8L1136.5,169.3L1137.5,169.9L1138.5,170.5L1139.5,171.1L1140.5,171.7L1141.5,172.3L1142.5,172.9L1143.5,173.6L1144.5,174.3L1145.5,175.0L1146.5,175.7L1147.5,176.5L1148.5,177.2L1149.5,178.0L1150.5,178.8L1151.5,179.6L1152.5,180.4L1153.5,181.3L1154.5,182.2L1155.5,183.0L1156.5,183.9L1157.5,184.9L1158.5,185.8L1159.5,186.7L1160.5,187.7L1161.5,188.7L1162.5,189.7L1163.5,190.7L1164.5,191.7L1165.5,192.7L1166.5,193.8L1167.5,194.9L1168.5,195.9L1169.5,197.0L1170.5,198.1L1171.5,199.3L1172.5,200.4L1173.5,201.5L1174.5,202.7L1175.5,203.9L1176.5,205.1L1177.5,206.3L1178.5,207.5L1179.5,208.7L1180.5,209.9L1181.5,211.2L1182.5,212.4L1183.5,213.7L1184.5,214.9L1185.5,216.2L1186.5,217.5L1187.5,218.8L1188.5,220.1L1189.5,221.4L1190.5,222.7L1191.5,224.1L1192.5,225.4L1193.5,226.7L1194.5,228.1L1195.5,229.4L1196.5,230.8L1197.5,232.1L1198.5,233.5L1199.5,234.9L1200.5,236.2L1201.5,237.6L1202.5,239.0L1203.5,240.3L1204.5,241.7L1205.5,243.1L1206.5,244.4L1207.5,245.8L1208.5,247.1L1209.5,248.5L1210.5,249.8L1211.5,251.1L1212.5,252.4L1213.5,253.7L1214.5,255.0L1215.5,256.3L1216.5,257.5L1217.5,258.7L1218.5,259.9L1219.5,261.1L1220.5,262.2L1221.5,263.3L1222.5,264.4L1223.5,265.4L1224.5,266.4L1225.5,267.4L1226.5,268.3L1227.5,269.1L1228.5,269.9L1229.5,270.6L1230.5,271.3L1231.5,271.8L1232.5,272.3L1233.5,272.8L1234.5,273.1L1235.5,273.4L1236.5,273.5L1237.5,273.6L1238.5,273.5L1239.5,273.4L1240.5,273.1L1241.5,272.7L1242.5,272.2L1243.5,271.6L1244.5,270.8L1245.5,269.9L1246.5,268.8L1247.5,267.6L1248.5,266.2L1249.5,264.7L1250.5,263.0L1251.5,261.2L1252.5,259.2L1253.5,257.0L1254.5,254.7L1255.5,252.2L1256.5,249.6L1257.5,246.7L1258.5,243.7L1259.5,240.6L1260.5,237.3L1261.5,233.8L1262.5,230.2L1263.5,226.5L1264.5,222.6L1265.5,218.6L1266.5,214.5L1267.5,210.2L1268.5,205.9L1269.5,201.5L1270.5,197.0L1271.5,192.4L1272.5,187.8L1273.5,183.1L1274.5,178.4L1275.5,173.8L1276.5,169.1L1277.5,164.5L1278.5,159.9L1279.5,155.3L1280.5,150.9L1281.5,146.5L1282.5,142.3L1283.5,138.2L1284.5,134.2L1285.5,130.5L1286.5,126.9L1287.5,123.5L1288.5,120.3L1289.5,117.4L1290.5,114.7L1291.5,112.3L1292.5,110.2L1293.5,108.3L1294.5,106.8L1295.5,105.6L1296.5,104.7L1297.5,104.1L1298.5,103.9L1299.5,104.0L1300.5,104.5L1301.5,105.3L1302.5,106.4L1303.5,107.9L1304.5,109.8L1305.5,112.0L1306.5,114.5L1307.5,117.3L1308.5,120.5L1309.5,124.0L1310.5,127.8L1311.5,131.9L1312.5,136.3L1313.5,140.9L1314.5,145.8L1315.5,150.9L1316.5,156.3L1317.5,161.8L1318.5,167.5L1319.5,173.4L1320.5,179.5L1321.5,185.7L1322.5,192.0L1323.5,198.4L1324.5,204.9L1325.5,211.4L1326.5,218.0L1327.5,224.7L1328.5,231.3L1329.5,237.9L1330.5,244.5L1331.5,251.1L1332.5,257.6L1333.5,264.0L1334.5,270.4L1335.5,276.7L1336.5,282.9L1337.5,289.0L1338.5,294.9L1339.5,300.7L1340.5,306.4L1341.5,312.0L1342.5,317.4L1343.5,322.6L1344.5,327.7L1345.5,332.6L1346.5,337.3L1347.5,341.9L1348.5,346.3L1349.5,350.6L1350.5,354.7L1351.5,358.6L1352.5,362.3L1353.5,365.9L1354.5,369.4L1355.5,372.6L1356.5,375.8L1357.5,378.7L1358.5,381.5L1359.5,384.2L1360.5,386.8L1361.5,389.2L1362.5,391.4L1363.5,393.6L1364.5,395.6L1365.5,397.5L1366.5,399.4L1367.5,401.1L1368.5,402.7L1369.5,404.2L1370.5,405.6L1371.5,407.0L1372.5,408.2L1373.5,409.4L1374.5,410.5L1375.5,411.6L1376.5,412.6L1377.5,413.5L1378.5,414.4L1379.5,415.2L1380.5,416.0L1381.5,416.7L1382.5,417.4L1383.5,418.0L1384.5,418.6L1385.5,419.2L1386.5,419.7L1387.5,420.3L1388.5,420.8L1389.5,421.2L1390.5,421.7L1391.5,422.1L1392.5,422.5L1393.5,422.9L1394.5,423.2L1395.5,423.6L1396.5,423.9L1397.5,424.2L1398.5,424.5L1399.5,424.8L1400.5,425.1L1401.5,425.4L1402.5,425.6L1403.5,425.9L1404.5,426.1L1405.5,426.4L1406.5,426.6L1407.5,426.8L1408.5,427.0L1409.5,427.2L1410.5,427.5L1411.5,427.7L1412.5,427.8L1413.5,428.0L1414.5,428.2L1415.5,428.4L1416.5,428.6L1417.5,428.7L1418.5,428.9L1419.5,429.1L1420.5,429.2L1421.5,429.4L1422.5,429.5L1423.5,429.7L1424.5,429.8L1425.5,430.0L1426.5,430.1L1427.5,430.2L1428.5,430.4L1429.5,430.5L1430.5,430.6L1431.5,430.8L1432.5,430.9L1433.5,431.0L1434.5,431.1L1435.5,431.2L1436.5,431.3L1437.5,431.4L1438.5,431.6L1439.5,431.7L1440.5,431.8L1441.5,431.9L1442.5,431.9L1443.5,432.0L1444.5,432.1L1445.5,432.2L1446.5,432.3L1447.5,432.4L1448.5,432.5L1449.5,432.6L1450.5,432.6L1451.5,432.7L1452.5,432.8L1453.5,432.9L1454.5,432.9L1455.5,433.0L1456.5,433.1L1457.5,433.2L1458.5,433.2L1459.5,433.3L1460.5,433.3L1461.5,433.4L1462.5,433.5L1463.5,433.5L1464.5,433.6L1465.5,433.6L1466.5,433.7L1467.5,433.7L1468.5,433.8L1469.5,433.8L1470.5,433.9L1471.5,433.9L1472.5,434.0L1473.5,434.0L1474.5,434.1L1475.5,434.1L1476.5,434.2L1477.5,434.2L1478.5,434.2L1479.5,434.3L1480.5,434.3L1481.5,434.4L1482.5,434.4L1483.5,434.4" stroke="#d818dc" stroke-width="2.5"/>
</g>
<rect x="724.2" y="24.2" width="760.0" height="442.3" fill="none" stroke="#000" stroke-width="2"/>
<path d="M735.4,466.5v-3.2M735.4,24.2v3.2M758.8,466.5v-3.2M758.8,24.2v3.2M782.2,466.5v-5.5M782.2,24.2v5.5M805.6,466.5v-3.2M805.6,24.2v3.2M829.0,466.5v-3.2M829.0,24.2v3.2M852.4,466.5v-3.2M852.4,24.2v3.2M875.8,466.5v-3.2M875.8,24.2v3.2M899.2,466.5v-5.5M899.2,24.2v5.5M922.6,466.5v-3.2M922.6,24.2v3.2M946.0,466.5v-3.2M946.0,24.2v3.2M969.4,466.5v-3.2M969.4,24.2v3.2M992.8,466.5v-3.2M992.8,24.2v3.2M1016.2,466.5v-5.5M1016.2,24.2v5.5M1039.6,466.5v-3.2M1039.6,24.2v3.2M1063.0,466.5v-3.2M1063.0,24.2v3.2M1086.4,466.5v-3.2M1086.4,24.2v3.2M1109.8,466.5v-3.2M1109.8,24.2v3.2M1133.2,466.5v-5.5M1133.2,24.2v5.5M1156.6,466.5v-3.2M1156.6,24.2v3.2M1180.0,466.5v-3.2M1180.0,24.2v3.2M1203.4,466.5v-3.2M1203.4,24.2v3.2M1226.8,466.5v-3.2M1226.8,24.2v3.2M1250.2,466.5v-5.5M1250.2,24.2v5.5M1273.6,466.5v-3.2M1273.6,24.2v3.2M1297.0,466.5v-3.2M1297.0,24.2v3.2M1320.4,466.5v-3.2M1320.4,24.2v3.2M1343.8,466.5v-3.2M1343.8,24.2v3.2M1367.2,466.5v-5.5M1367.2,24.2v5.5M1390.6,466.5v-3.2M1390.6,24.2v3.2M1414.0,466.5v-3.2M1414.0,24.2v3.2M1437.4,466.5v-3.2M1437.4,24.2v3.2M1460.8,466.5v-3.2M1460.8,24.2v3.2M724.2,38.9h5M1484.2,38.9h-5M724.2,53.7h5M1484.2,53.7h-5M724.2,68.4h5M1484.2,68.4h-5M724.2,83.1h5M1484.2,83.1h-5M724.2,97.9h8M1484.2,97.9h-8M724.2,112.6h5M1484.2,112.6h-5M724.2,127.3h5M1484.2,127.3h-5M724.2,142.1h5M1484.2,142.1h-5M724.2,156.8h5M1484.2,156.8h-5M724.2,171.5h8M1484.2,171.5h-8M724.2,186.3h5M1484.2,186.3h-5M724.2,201.0h5M1484.2,201.0h-5M724.2,215.7h5M1484.2,215.7h-5M724.2,230.5h5M1484.2,230.5h-5M724.2,245.2h8M1484.2,245.2h-8M724.2,259.9h5M1484.2,259.9h-5M724.2,274.7h5M1484.2,274.7h-5M724.2,289.4h5M1484.2,289.4h-5M724.2,304.1h5M1484.2,304.1h-5M724.2,318.9h8M1484.2,318.9h-8M724.2,333.6h5M1484.2,333.6h-5M724.2,348.3h5M1484.2,348.3h-5M724.2,363.1h5M1484.2,363.1h-5M724.2,377.8h5M1484.2,377.8h-5M724.2,392.5h8M1484.2,392.5h-8M724.2,407.3h5M1484.2,407.3h-5M724.2,422.0h5M1484.2,422.0h-5M724.2,436.7h5M1484.2,436.7h-5M724.2,451.5h5M1484.2,451.5h-5" stroke="#000" stroke-width="1.6" fill="none"/>
<rect x="778.5" y="88.4" width="160.9" height="98.2" fill="none" stroke="#000" stroke-width="2.5"/>
<text font-size="19.71" transform="translate(113.38,544.40) scale(0.7912,1)" style="font-family:'Liberation Sans',sans-serif">880</text>
<text font-size="19.71" transform="translate(269.58,544.40) scale(0.7912,1)" style="font-family:'Liberation Sans',sans-serif">870</text>
<text font-size="19.71" transform="translate(425.98,544.40) scale(0.7912,1)" style="font-family:'Liberation Sans',sans-serif">860</text>
<text font-size="19.71" transform="translate(582.38,544.40) scale(0.7912,1)" style="font-family:'Liberation Sans',sans-serif">850</text>
<text font-size="23.84" transform="translate(253.55,588.80) scale(0.8140,1)" style="font-family:'Liberation Sans',sans-serif">Binding energy (ev)</text>
<text font-size="30.29" transform="translate(117.99,275.80) scale(0.7360,1)" style="font-family:'Liberation Sans',sans-serif">Sat</text>
<text font-size="37.43" transform="translate(385.95,268.30) scale(1.0409,1)" style="font-family:'Liberation Sans',sans-serif">Sat</text>
<text font-size="37.70" transform="translate(332.66,101.60) scale(1.0412,1)" style="font-family:'Liberation Sans',sans-serif">Ni</text>
<text font-size="21.43" transform="translate(369.46,75.80) scale(1.1577,1)" style="font-family:'Liberation Sans',sans-serif">2+</text>
<text font-size="37.14" transform="translate(396.41,101.60) scale(0.9661,1)" style="font-family:'Liberation Sans',sans-serif">2p</text>
<text font-size="20.96" transform="translate(441.14,115.20) scale(1.1488,1)" style="font-family:'Liberation Sans',sans-serif">3/2</text>
<text font-size="38.99" transform="translate(205.35,233.90) scale(1.0098,1)" style="font-family:'Liberation Sans',sans-serif">Ni</text>
<text font-size="22.29" transform="translate(241.75,208.10) scale(1.1175,1)" style="font-family:'Liberation Sans',sans-serif">2+</text>
<text font-size="37.71" transform="translate(269.14,233.90) scale(1.0372,1)" style="font-family:'Liberation Sans',sans-serif">2p</text>
<text font-size="20.14" transform="translate(313.46,248.40) scale(1.2060,1)" style="font-family:'Liberation Sans',sans-serif">1/2</text>
<text font-size="57.42" transform="translate(132.61,108.30) scale(1.0349,1)" style="font-family:'Liberation Serif',serif" filter="url(#sh)" fill="#111">A</text>
<text font-size="19.73" transform="translate(994.17,528.80) scale(1.2843,1)" style="font-family:'Liberation Sans',sans-serif">Binding energy (ev)</text>
<text font-size="36.44" transform="translate(1021.69,87.00) scale(1.1113,1)" style="font-family:'Liberation Sans',sans-serif">4f</text>
<text font-size="22.19" transform="translate(1054.82,100.30) scale(1.1092,1)" style="font-family:'Liberation Sans',sans-serif">5/2</text>
<text font-size="23.70" transform="translate(1279.39,70.00) scale(1.2815,1)" style="font-family:'Liberation Sans',sans-serif">4f</text>
<text font-size="15.89" transform="translate(1303.61,78.90) scale(1.2489,1)" style="font-family:'Liberation Sans',sans-serif">7/2</text>
<text font-size="55.85" transform="translate(814.10,158.80) scale(1.0744,1)" style="font-family:'Liberation Serif',serif" filter="url(#sh)" fill="#111">B</text>
<text font-size="16.57" transform="translate(770.62,490.40) scale(1.2596,1)" style="font-family:'Liberation Sans',sans-serif">80</text>
<text font-size="16.57" transform="translate(887.40,490.40) scale(1.2720,1)" style="font-family:'Liberation Sans',sans-serif">78</text>
<text font-size="16.57" transform="translate(1004.40,490.40) scale(1.2720,1)" style="font-family:'Liberation Sans',sans-serif">76</text>
<text font-size="16.81" transform="translate(1121.41,490.40) scale(1.2416,1)" style="font-family:'Liberation Sans',sans-serif">74</text>
<text font-size="16.57" transform="translate(1238.39,490.40) scale(1.2846,1)" style="font-family:'Liberation Sans',sans-serif">72</text>
<text font-size="16.57" transform="translate(1355.40,490.40) scale(1.2720,1)" style="font-family:'Liberation Sans',sans-serif">70</text>
<text font-size="16.57" transform="translate(1472.40,490.40) scale(1.2720,1)" style="font-family:'Liberation Sans',sans-serif">68</text>
<text font-size="19.91" transform="translate(15.60,338.23) rotate(-90) scale(1.2457,1)" style="font-family:'Liberation Sans',sans-serif">Intensity (a.u.)</text>
<text font-size="24.71" transform="translate(681.60,283.88) rotate(-90) scale(0.8451,1)" style="font-family:'Liberation Sans',sans-serif">Intenisty</text>
</svg>
</body></html>
